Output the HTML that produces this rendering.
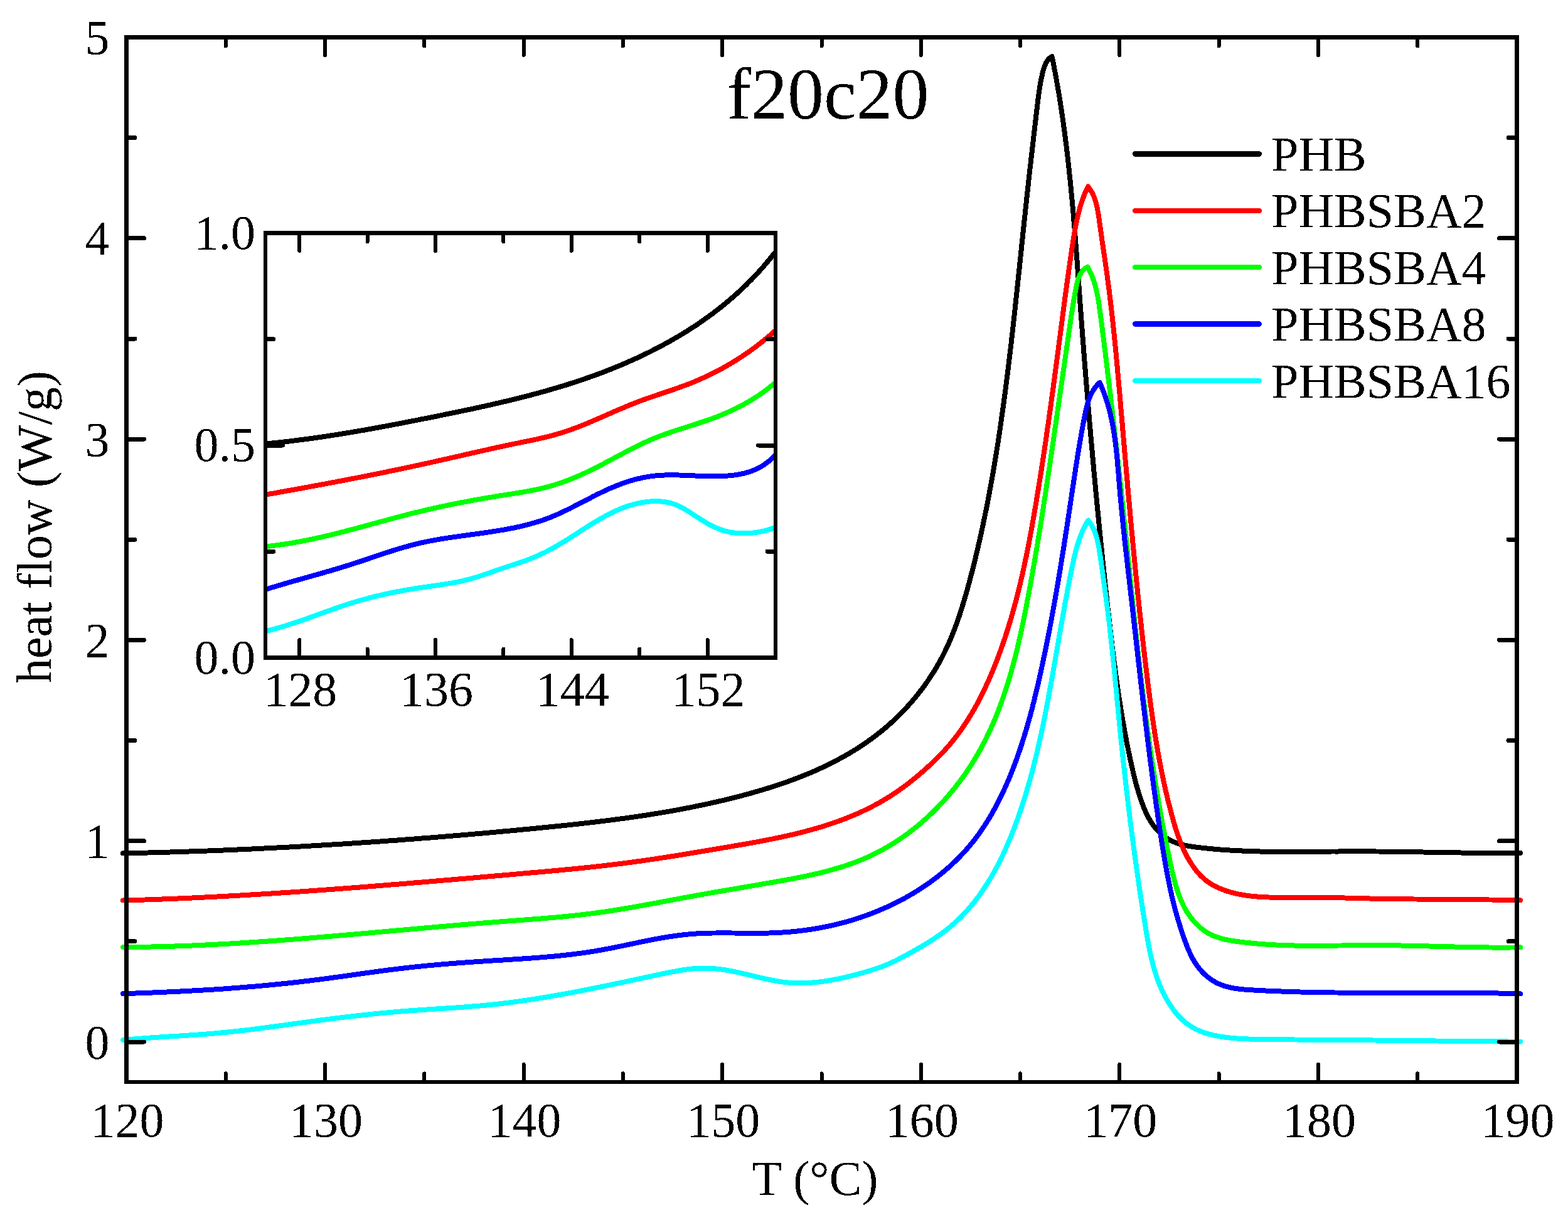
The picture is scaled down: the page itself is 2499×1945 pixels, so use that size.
<!DOCTYPE html><html><head><meta charset="utf-8"><title>f20c20</title>
<style>html,body{margin:0;padding:0;background:#fff;overflow:hidden;}svg{display:block;}text{font-family:"Liberation Serif", "Times New Roman", serif;fill:#000;}text{filter:url(#bin);}path,rect{shape-rendering:crispEdges;}</style></head><body>
<svg xmlns="http://www.w3.org/2000/svg" width="2499" height="1945" viewBox="0 0 2499 1945">
<defs><filter id="bin" x="-3000" y="-3000" width="6000" height="6000" filterUnits="userSpaceOnUse" color-interpolation-filters="sRGB"><feComponentTransfer><feFuncA type="discrete" tableValues="0 1"/></feComponentTransfer></filter></defs>
<rect x="0" y="0" width="2499" height="1945" fill="#fff"/>
<g fill="none" stroke-width="8" stroke-linejoin="round" stroke-linecap="round">
<path stroke="#000000" d="M196,1360.4 201,1360.3 206,1360.2 211,1360.1 216,1360 221,1359.9 226,1359.7 231,1359.6 236,1359.5 241,1359.4 246,1359.2 251,1359.1 256,1358.9 261,1358.8 266,1358.7 271,1358.5 276,1358.4 281,1358.2 286,1358 291,1357.9 296,1357.7 301,1357.5 306,1357.4 311,1357.2 316,1357 321,1356.8 326,1356.6 331,1356.5 336,1356.3 341,1356.1 346,1355.9 351,1355.7 356.1,1355.5 361.1,1355.3 366.1,1355.1 371.1,1354.8 376.1,1354.6 381.1,1354.4 386.1,1354.2 391.1,1354 396.1,1353.7 401.1,1353.5 406.1,1353.3 411.1,1353 416.1,1352.8 421.1,1352.5 426.1,1352.3 431.1,1352 436.1,1351.8 441.1,1351.5 446.1,1351.3 451.1,1351 456.1,1350.8 461.1,1350.5 466.1,1350.2 471.1,1349.9 476.1,1349.7 481.1,1349.4 486.1,1349.1 491.1,1348.8 496.1,1348.5 501.1,1348.2 506.1,1347.9 511.1,1347.6 516.1,1347.3 521.1,1347 526.1,1346.7 531.1,1346.4 536.1,1346.1 541.2,1345.8 546.2,1345.5 551.2,1345.2 556.2,1344.8 561.2,1344.5 566.2,1344.2 571.2,1343.9 576.2,1343.5 581.2,1343.2 586.1,1342.8 591.1,1342.5 596.1,1342.2 601.1,1341.8 606.1,1341.5 611.1,1341.1 616.1,1340.7 621.1,1340.4 626.1,1340 631.1,1339.7 636.1,1339.3 641.1,1338.9 646.1,1338.5 651.1,1338.2 656.1,1337.8 661.1,1337.4 666.1,1337 671.1,1336.6 676.1,1336.2 681.1,1335.8 686.1,1335.5 691.1,1335.1 696.1,1334.7 701.1,1334.2 706,1333.8 711,1333.4 716,1333 721,1332.6 726,1332.2 731,1331.8 736,1331.3 741,1330.9 746,1330.5 751,1330.1 755.9,1329.6 760.9,1329.2 765.9,1328.8 770.9,1328.3 775.9,1327.9 780.9,1327.4 785.9,1327 790.8,1326.5 795.8,1326.1 800.8,1325.6 805.8,1325.1 810.8,1324.7 815.8,1324.2 820.7,1323.8 825.7,1323.3 830.7,1322.8 835.7,1322.3 840.7,1321.9 845.6,1321.4 850.6,1320.9 855.6,1320.4 860.6,1319.9 865.6,1319.4 870.5,1318.9 875.5,1318.4 880.5,1317.9 885.5,1317.4 890.4,1316.9 895.4,1316.4 900.4,1315.9 905.3,1315.4 910.3,1314.8 915.3,1314.3 920.3,1313.8 925.2,1313.2 930.2,1312.6 935.2,1312.1 940.1,1311.5 945.1,1310.9 950,1310.3 955,1309.7 960,1309.1 964.9,1308.5 969.9,1307.9 974.8,1307.3 979.8,1306.6 984.7,1306 989.7,1305.3 994.6,1304.7 999.6,1304 1004.5,1303.3 1009.5,1302.6 1014.4,1301.9 1019.4,1301.1 1024.3,1300.4 1029.3,1299.7 1034.2,1298.9 1039.1,1298.1 1044.1,1297.3 1049,1296.5 1053.9,1295.7 1058.9,1294.9 1063.8,1294 1068.7,1293.2 1073.6,1292.3 1078.5,1291.4 1083.5,1290.5 1088.4,1289.6 1093.3,1288.6 1098.2,1287.7 1103.1,1286.7 1108,1285.7 1112.9,1284.7 1117.8,1283.7 1122.7,1282.7 1127.6,1281.6 1132.5,1280.5 1137.4,1279.4 1142.3,1278.3 1147.2,1277.2 1152.1,1276 1157,1274.9 1161.9,1273.7 1166.8,1272.5 1171.6,1271.2 1176.5,1270 1181.4,1268.7 1186.3,1267.4 1191.1,1266.1 1196,1264.8 1200.8,1263.4 1205.7,1262 1210.5,1260.6 1215.4,1259.2 1220.2,1257.7 1225,1256.2 1229.8,1254.7 1234.6,1253.1 1239.4,1251.6 1244.2,1250 1249,1248.3 1253.7,1246.7 1258.4,1245 1263.2,1243.2 1267.9,1241.5 1272.6,1239.7 1277.2,1237.9 1281.9,1236 1286.5,1234.1 1291.2,1232.2 1295.8,1230.2 1300.4,1228.2 1304.9,1226.1 1309.5,1224.1 1314,1221.9 1318.5,1219.8 1323,1217.6 1327.4,1215.3 1331.8,1213.1 1336.2,1210.7 1340.6,1208.4 1345,1205.9 1349.3,1203.5 1353.6,1201 1357.8,1198.4 1362.1,1195.9 1366.3,1193.2 1370.4,1190.5 1374.6,1187.8 1378.7,1185 1382.8,1182.2 1386.8,1179.3 1390.8,1176.4 1394.8,1173.4 1398.7,1170.4 1402.6,1167.3 1406.5,1164.2 1410.3,1161 1414.1,1157.7 1417.9,1154.4 1421.6,1151.1 1425.2,1147.7 1428.9,1144.2 1432.4,1140.7 1436,1137.2 1439.5,1133.6 1442.9,1130 1446.3,1126.3 1449.7,1122.5 1453,1118.8 1456.3,1114.9 1459.5,1111.1 1462.6,1107.2 1465.7,1103.2 1468.8,1099.2 1471.8,1095.2 1474.7,1091.2 1477.6,1087.1 1480.4,1082.9 1483.2,1078.7 1485.9,1074.5 1488.6,1070.3 1491.2,1066 1493.7,1061.7 1496.2,1057.3 1498.6,1052.9 1501,1048.5 1503.2,1044.1 1505.5,1039.6 1507.6,1035.1 1509.7,1030.6 1511.8,1026.1 1513.8,1021.5 1515.7,1016.9 1517.6,1012.3 1519.5,1007.6 1521.3,1003 1523,998.3 1524.8,993.6 1526.4,988.9 1528.1,984.1 1529.7,979.4 1531.2,974.6 1532.8,969.8 1534.2,965 1535.7,960.2 1537.1,955.4 1538.6,950.6 1539.9,945.8 1541.3,940.9 1542.6,936.1 1544,931.2 1545.3,926.4 1546.5,921.5 1547.8,916.7 1549.1,911.8 1550.3,907 1551.5,902.1 1552.8,897.2 1554,892.4 1555.1,887.5 1556.3,882.6 1557.5,877.7 1558.6,872.9 1559.7,868 1560.9,863.1 1562,858.2 1563.1,853.3 1564.1,848.5 1565.2,843.6 1566.2,838.7 1567.3,833.8 1568.3,828.9 1569.3,824 1570.3,819.1 1571.3,814.2 1572.3,809.3 1573.3,804.4 1574.2,799.5 1575.2,794.5 1576.1,789.6 1577,784.7 1577.9,779.8 1578.8,774.9 1579.7,770 1580.6,765 1581.5,760.1 1582.4,755.2 1583.2,750.3 1584.1,745.3 1584.9,740.4 1585.7,735.5 1586.5,730.5 1587.3,725.6 1588.1,720.7 1588.9,715.7 1589.7,710.8 1590.5,705.9 1591.2,700.9 1592,696 1592.7,691 1593.5,686.1 1594.2,681.1 1594.9,676.2 1595.6,671.2 1596.3,666.3 1597,661.3 1597.7,656.4 1598.4,651.4 1599.1,646.5 1599.8,641.5 1600.4,636.5 1601.1,631.6 1601.8,626.6 1602.4,621.6 1603.1,616.7 1603.7,611.7 1604.3,606.7 1605,601.8 1605.6,596.8 1606.2,591.8 1606.8,586.9 1607.4,581.9 1608,576.9 1608.6,571.9 1609.2,567 1609.8,562 1610.4,557 1611,552 1611.6,547.1 1612.1,542.1 1612.7,537.1 1613.3,532.1 1613.8,527.2 1614.4,522.2 1614.9,517.2 1615.5,512.2 1616,507.2 1616.6,502.2 1617.1,497.3 1617.7,492.3 1618.2,487.3 1618.8,482.3 1619.3,477.3 1619.8,472.4 1620.4,467.4 1620.9,462.4 1621.4,457.4 1622,452.4 1622.5,447.4 1623,442.5 1623.5,437.5 1624.1,432.5 1624.6,427.5 1625.1,422.5 1625.6,417.5 1626.1,412.6 1626.7,407.6 1627.2,402.6 1627.7,397.6 1628.2,392.6 1628.7,387.7 1629.3,382.7 1629.8,377.7 1630.3,372.7 1630.8,367.7 1631.4,362.8 1631.9,357.8 1632.4,352.8 1632.9,347.8 1633.5,342.9 1634,337.9 1634.5,332.9 1635.1,327.9 1635.6,323 1636.1,318 1636.7,313 1637.2,308.1 1637.8,303.1 1638.3,298.1 1638.9,293.2 1639.4,288.2 1640,283.2 1640.5,278.3 1641.1,273.3 1641.6,268.3 1642.2,263.4 1642.8,258.4 1643.3,253.4 1643.9,248.5 1644.5,243.5 1645,238.5 1645.6,233.6 1646.2,228.6 1646.8,223.6 1647.3,218.6 1647.9,213.7 1648.5,208.7 1649.1,203.7 1649.7,198.7 1650.3,193.7 1650.8,188.7 1651.4,183.7 1652,178.7 1652.6,173.7 1653.2,168.7 1653.8,163.7 1654.4,158.6 1655,153.6 1655.7,148.6 1656.4,143.6 1657.1,138.7 1658,133.7 1658.9,128.8 1659.9,123.9 1661,119.1 1662.1,114.3 1663.5,109.6 1665,104.9 1666.9,100.5 1669.3,96.5 1672.5,92.9 1676.5,90 1677.6,94.9 1678.5,99.8 1679.5,104.7 1680.4,109.6 1681.4,114.5 1682.3,119.4 1683.2,124.3 1684.1,129.3 1684.9,134.2 1685.8,139.1 1686.6,144 1687.5,149 1688.3,153.9 1689.1,158.8 1689.9,163.8 1690.6,168.7 1691.4,173.6 1692.1,178.6 1692.9,183.5 1693.6,188.5 1694.3,193.4 1695,198.4 1695.6,203.3 1696.3,208.3 1697,213.2 1697.6,218.2 1698.2,223.1 1698.9,228.1 1699.5,233 1700.1,238 1700.7,243 1701.3,247.9 1701.8,252.9 1702.4,257.9 1702.9,262.8 1703.5,267.8 1704,272.8 1704.5,277.8 1705.1,282.7 1705.6,287.7 1706.1,292.7 1706.6,297.7 1707,302.6 1707.5,307.6 1708,312.6 1708.5,317.6 1708.9,322.6 1709.4,327.6 1709.8,332.5 1710.3,337.5 1710.7,342.5 1711.1,347.5 1711.5,352.5 1712,357.5 1712.4,362.5 1712.8,367.5 1713.2,372.5 1713.6,377.5 1714,382.4 1714.4,387.4 1714.8,392.4 1715.1,397.4 1715.5,402.4 1715.9,407.4 1716.3,412.4 1716.7,417.4 1717,422.4 1717.4,427.4 1717.8,432.4 1718.1,437.4 1718.5,442.4 1718.9,447.4 1719.2,452.4 1719.6,457.4 1720,462.4 1720.3,467.4 1720.7,472.4 1721,477.4 1721.4,482.4 1721.8,487.4 1722.1,492.3 1722.5,497.3 1722.9,502.3 1723.2,507.3 1723.6,512.3 1724,517.3 1724.4,522.3 1724.7,527.3 1725.1,532.3 1725.5,537.3 1725.9,542.3 1726.3,547.3 1726.7,552.3 1727,557.3 1727.4,562.2 1727.8,567.2 1728.2,572.2 1728.6,577.2 1729,582.2 1729.4,587.2 1729.8,592.2 1730.2,597.2 1730.6,602.2 1731,607.1 1731.4,612.1 1731.8,617.1 1732.2,622.1 1732.7,627.1 1733.1,632.1 1733.5,637.1 1733.9,642.1 1734.3,647 1734.7,652 1735.2,657 1735.6,662 1736,667 1736.4,672 1736.9,676.9 1737.3,681.9 1737.7,686.9 1738.2,691.9 1738.6,696.9 1739.1,701.9 1739.5,706.8 1739.9,711.8 1740.4,716.8 1740.8,721.8 1741.3,726.8 1741.7,731.8 1742.2,736.7 1742.6,741.7 1743.1,746.7 1743.5,751.7 1744,756.7 1744.5,761.6 1744.9,766.6 1745.4,771.6 1745.9,776.6 1746.3,781.6 1746.8,786.5 1747.3,791.5 1747.8,796.5 1748.2,801.5 1748.7,806.5 1749.2,811.4 1749.7,816.4 1750.2,821.4 1750.7,826.4 1751.2,831.4 1751.6,836.3 1752.1,841.3 1752.6,846.3 1753.1,851.3 1753.6,856.2 1754.1,861.2 1754.6,866.2 1755.2,871.2 1755.7,876.2 1756.2,881.1 1756.7,886.1 1757.2,891.1 1757.7,896.1 1758.2,901.1 1758.8,906 1759.3,911 1759.8,916 1760.3,921 1760.9,925.9 1761.4,930.9 1761.9,935.9 1762.5,940.9 1763,945.9 1763.6,950.8 1764.1,955.8 1764.6,960.8 1765.2,965.8 1765.7,970.7 1766.3,975.7 1766.9,980.7 1767.4,985.7 1768,990.6 1768.5,995.6 1769.1,1000.6 1769.7,1005.6 1770.2,1010.6 1770.8,1015.5 1771.4,1020.5 1772,1025.5 1772.6,1030.5 1773.2,1035.4 1773.8,1040.4 1774.4,1045.4 1775,1050.3 1775.7,1055.3 1776.3,1060.3 1777,1065.2 1777.6,1070.2 1778.3,1075.2 1778.9,1080.1 1779.6,1085.1 1780.3,1090 1781,1095 1781.7,1099.9 1782.5,1104.9 1783.2,1109.8 1783.9,1114.8 1784.7,1119.7 1785.5,1124.7 1786.3,1129.6 1787.1,1134.5 1787.9,1139.5 1788.7,1144.4 1789.5,1149.3 1790.4,1154.2 1791.3,1159.2 1792.1,1164.1 1793,1169 1794,1173.9 1794.9,1178.8 1795.8,1183.7 1796.8,1188.6 1797.8,1193.5 1798.8,1198.4 1799.8,1203.3 1800.8,1208.2 1801.9,1213 1803,1217.9 1804.1,1222.8 1805.2,1227.7 1806.3,1232.5 1807.5,1237.4 1808.7,1242.2 1809.9,1247.1 1811.2,1251.9 1812.6,1256.7 1814,1261.6 1815.5,1266.4 1817,1271.2 1818.7,1276 1820.4,1280.8 1822.2,1285.6 1824.1,1290.3 1826.2,1295 1828.4,1299.6 1830.7,1304.1 1833.2,1308.5 1835.9,1312.8 1838.8,1316.8 1841.9,1320.7 1845.2,1324.4 1848.7,1327.8 1852.4,1331.1 1856.4,1334 1860.4,1336.8 1864.7,1339.2 1869.1,1341.5 1873.6,1343.4 1878.3,1345.1 1883,1346.5 1887.9,1347.7 1892.8,1348.6 1897.7,1349.4 1902.7,1350.1 1907.7,1350.8 1912.7,1351.4 1917.7,1351.9 1922.6,1352.4 1927.6,1352.9 1932.6,1353.4 1937.6,1353.9 1942.6,1354.3 1947.6,1354.7 1952.6,1355 1957.6,1355.3 1962.6,1355.7 1967.6,1355.9 1972.6,1356.2 1977.6,1356.4 1982.6,1356.7 1987.6,1356.9 1992.6,1357 1997.6,1357.2 2002.6,1357.4 2007.6,1357.5 2012.6,1357.6 2017.6,1357.7 2022.6,1357.8 2027.6,1357.8 2032.6,1357.9 2037.6,1357.9 2042.6,1358 2047.6,1358 2052.7,1358 2057.7,1358 2062.7,1358 2067.7,1358 2072.7,1357.9 2077.7,1357.9 2082.7,1357.9 2087.7,1357.8 2092.7,1357.8 2097.7,1357.8 2102.7,1357.7 2107.7,1357.7 2112.7,1357.6 2117.7,1357.6 2122.7,1357.5 2127.7,1357.5 2132.7,1357.5 2137.7,1357.4 2142.7,1357.4 2147.7,1357.4 2152.8,1357.4 2157.8,1357.3 2162.8,1357.3 2167.8,1357.3 2172.8,1357.4 2177.8,1357.4 2182.8,1357.4 2187.8,1357.4 2192.8,1357.5 2197.8,1357.5 2202.8,1357.6 2207.8,1357.6 2212.8,1357.7 2217.8,1357.7 2222.8,1357.8 2227.8,1357.9 2232.8,1357.9 2237.8,1358 2242.8,1358.1 2247.8,1358.2 2252.8,1358.3 2257.8,1358.3 2262.9,1358.4 2267.9,1358.5 2272.9,1358.6 2277.9,1358.7 2282.9,1358.8 2287.9,1358.9 2292.9,1358.9 2297.9,1359 2302.9,1359.1 2307.9,1359.2 2312.9,1359.3 2317.9,1359.3 2322.9,1359.4 2327.9,1359.5 2332.9,1359.6 2337.9,1359.6 2342.9,1359.7 2347.9,1359.7 2352.9,1359.8 2357.9,1359.8 2362.9,1359.9 2367.9,1359.9 2373,1359.9 2378,1359.9 2383,1360 2388,1360 2393,1360 2398,1360 2403,1359.9 2408,1359.9 2413,1359.9 2418,1359.8 2423,1359.8"/>
<path stroke="#ff0000" d="M196,1435.5 201,1435.4 206,1435.2 211,1435.1 216,1434.9 221,1434.8 226.1,1434.6 231.1,1434.5 236.1,1434.3 241.1,1434.1 246.1,1433.9 251.1,1433.8 256.1,1433.6 261.1,1433.4 266.1,1433.2 271.1,1433 276.1,1432.8 281.1,1432.6 286.1,1432.4 291.1,1432.2 296.1,1431.9 301.1,1431.7 306.1,1431.5 311.1,1431.3 316.1,1431 321.1,1430.8 326.2,1430.5 331.2,1430.3 336.2,1430 341.2,1429.8 346.2,1429.5 351.2,1429.3 356.2,1429 361.2,1428.7 366.2,1428.4 371.2,1428.2 376.2,1427.9 381.2,1427.6 386.2,1427.3 391.2,1427 396.2,1426.7 401.2,1426.4 406.2,1426.1 411.1,1425.8 416.1,1425.5 421.1,1425.2 426.1,1424.9 431.1,1424.6 436.1,1424.3 441.1,1423.9 446.1,1423.6 451.1,1423.3 456.1,1423 461.1,1422.6 466.1,1422.3 471.1,1422 476.1,1421.6 481.1,1421.3 486.1,1420.9 491.1,1420.6 496.1,1420.2 501.1,1419.9 506.1,1419.5 511.1,1419.2 516.1,1418.8 521.1,1418.4 526.1,1418.1 531.1,1417.7 536,1417.3 541,1416.9 546,1416.6 551,1416.2 556,1415.8 561,1415.4 566,1415 571,1414.7 576,1414.3 581,1413.9 586,1413.5 591,1413.1 596,1412.7 601,1412.3 606,1411.9 610.9,1411.5 615.9,1411.1 620.9,1410.7 625.9,1410.3 630.9,1409.9 635.9,1409.5 640.9,1409.1 645.9,1408.7 650.9,1408.3 655.9,1407.8 660.9,1407.4 665.9,1407 670.9,1406.6 675.9,1406.2 680.8,1405.8 685.8,1405.3 690.8,1404.9 695.8,1404.5 700.8,1404.1 705.8,1403.6 710.8,1403.2 715.8,1402.8 720.8,1402.4 725.8,1401.9 730.8,1401.5 735.8,1401.1 740.8,1400.7 745.8,1400.2 750.8,1399.8 755.7,1399.4 760.7,1398.9 765.7,1398.5 770.7,1398.1 775.7,1397.6 780.7,1397.2 785.7,1396.8 790.7,1396.3 795.7,1395.9 800.7,1395.5 805.7,1395 810.7,1394.6 815.7,1394.2 820.7,1393.7 825.7,1393.3 830.7,1392.8 835.7,1392.4 840.7,1392 845.6,1391.5 850.6,1391.1 855.6,1390.7 860.6,1390.2 865.6,1389.8 870.6,1389.3 875.6,1388.9 880.6,1388.4 885.6,1388 890.6,1387.5 895.6,1387 900.6,1386.5 905.5,1386.1 910.5,1385.6 915.5,1385.1 920.5,1384.6 925.5,1384.1 930.5,1383.6 935.4,1383.1 940.4,1382.6 945.4,1382 950.4,1381.5 955.3,1380.9 960.3,1380.4 965.3,1379.8 970.2,1379.2 975.2,1378.6 980.2,1378 985.1,1377.4 990.1,1376.8 995,1376.2 1000,1375.5 1004.9,1374.9 1009.9,1374.2 1014.8,1373.5 1019.8,1372.9 1024.7,1372.2 1029.7,1371.4 1034.6,1370.7 1039.5,1370 1044.5,1369.3 1049.4,1368.5 1054.3,1367.8 1059.3,1367 1064.2,1366.2 1069.1,1365.4 1074.1,1364.7 1079,1363.9 1083.9,1363.1 1088.9,1362.3 1093.8,1361.5 1098.7,1360.7 1103.7,1359.8 1108.6,1359 1113.5,1358.2 1118.5,1357.4 1123.4,1356.5 1128.4,1355.7 1133.3,1354.9 1138.3,1354 1143.2,1353.2 1148.2,1352.4 1153.1,1351.5 1158.1,1350.7 1163.1,1349.8 1168,1349 1173,1348.1 1178,1347.3 1182.9,1346.4 1187.9,1345.6 1192.9,1344.7 1197.8,1343.8 1202.8,1342.9 1207.7,1342 1212.7,1341 1217.6,1340.1 1222.6,1339.1 1227.5,1338.2 1232.5,1337.2 1237.4,1336.2 1242.3,1335.1 1247.2,1334.1 1252.1,1333 1257,1331.9 1261.9,1330.8 1266.8,1329.6 1271.7,1328.4 1276.6,1327.2 1281.4,1326 1286.2,1324.7 1291.1,1323.4 1295.9,1322.1 1300.7,1320.7 1305.5,1319.3 1310.2,1317.9 1315,1316.4 1319.7,1314.9 1324.4,1313.3 1329.1,1311.7 1333.8,1310.1 1338.5,1308.4 1343.1,1306.6 1347.8,1304.9 1352.4,1303 1357,1301.2 1361.6,1299.2 1366.1,1297.3 1370.6,1295.3 1375.1,1293.2 1379.6,1291 1384.1,1288.9 1388.5,1286.6 1392.9,1284.3 1397.3,1282 1401.6,1279.6 1406,1277.1 1410.3,1274.5 1414.6,1271.9 1418.8,1269.3 1423,1266.5 1427.2,1263.8 1431.4,1260.9 1435.5,1258 1439.6,1255 1443.7,1252 1447.7,1248.9 1451.7,1245.8 1455.7,1242.6 1459.6,1239.4 1463.5,1236.2 1467.3,1232.9 1471.2,1229.6 1475,1226.2 1478.7,1222.8 1482.4,1219.4 1486.1,1216 1489.7,1212.5 1493.3,1209 1496.8,1205.4 1500.3,1201.8 1503.7,1198.1 1507.1,1194.5 1510.4,1190.7 1513.7,1187 1516.9,1183.1 1520,1179.3 1523.1,1175.3 1526.1,1171.4 1529,1167.4 1531.9,1163.3 1534.8,1159.2 1537.6,1155.1 1540.3,1150.9 1543,1146.7 1545.6,1142.5 1548.2,1138.2 1550.7,1133.9 1553.2,1129.6 1555.6,1125.2 1558,1120.8 1560.3,1116.4 1562.6,1112 1564.8,1107.5 1567,1103 1569.2,1098.5 1571.3,1094 1573.4,1089.4 1575.5,1084.9 1577.5,1080.3 1579.5,1075.7 1581.4,1071.1 1583.3,1066.4 1585.2,1061.8 1587,1057.1 1588.9,1052.5 1590.6,1047.8 1592.4,1043.1 1594.1,1038.4 1595.8,1033.7 1597.5,1029 1599.1,1024.3 1600.7,1019.6 1602.3,1014.8 1603.8,1010.1 1605.4,1005.3 1606.9,1000.5 1608.3,995.8 1609.8,991 1611.2,986.2 1612.6,981.4 1614,976.6 1615.3,971.8 1616.6,966.9 1618,962.1 1619.2,957.3 1620.5,952.4 1621.7,947.6 1623,942.7 1624.2,937.8 1625.3,933 1626.5,928.1 1627.6,923.2 1628.8,918.3 1629.9,913.4 1631,908.5 1632,903.6 1633.1,898.7 1634.1,893.8 1635.1,888.9 1636.2,884 1637.2,879.1 1638.1,874.2 1639.1,869.2 1640.1,864.3 1641,859.4 1641.9,854.4 1642.8,849.5 1643.8,844.6 1644.6,839.6 1645.5,834.7 1646.4,829.7 1647.3,824.8 1648.1,819.8 1649,814.9 1649.8,809.9 1650.7,805 1651.5,800.1 1652.3,795.1 1653.1,790.2 1653.9,785.2 1654.7,780.3 1655.5,775.3 1656.3,770.4 1657.1,765.4 1657.9,760.5 1658.7,755.5 1659.5,750.6 1660.2,745.6 1661,740.7 1661.7,735.7 1662.5,730.8 1663.2,725.8 1664,720.9 1664.7,716 1665.4,711 1666.2,706.1 1666.9,701.1 1667.6,696.2 1668.3,691.2 1669,686.3 1669.7,681.3 1670.5,676.4 1671.2,671.4 1671.8,666.5 1672.5,661.5 1673.2,656.6 1673.9,651.6 1674.6,646.7 1675.3,641.7 1676,636.8 1676.6,631.8 1677.3,626.8 1678,621.9 1678.7,616.9 1679.3,612 1680,607 1680.7,602.1 1681.3,597.1 1682,592.2 1682.6,587.2 1683.3,582.2 1684,577.3 1684.6,572.3 1685.3,567.4 1685.9,562.4 1686.6,557.4 1687.2,552.5 1687.9,547.5 1688.5,542.5 1689.2,537.6 1689.8,532.6 1690.5,527.6 1691.1,522.7 1691.8,517.7 1692.4,512.7 1693,507.8 1693.7,502.8 1694.3,497.8 1695,492.8 1695.7,487.9 1696.3,482.9 1697,477.9 1697.6,472.9 1698.3,468 1699,463 1699.6,458 1700.3,453 1701,448.1 1701.7,443.1 1702.4,438.1 1703.1,433.1 1703.8,428.2 1704.5,423.2 1705.2,418.2 1705.9,413.3 1706.6,408.3 1707.4,403.3 1708.1,398.4 1708.9,393.4 1709.6,388.4 1710.4,383.5 1711.2,378.5 1712,373.6 1712.8,368.7 1713.7,363.7 1714.6,358.8 1715.6,353.9 1716.7,349.1 1717.8,344.2 1718.9,339.4 1720.2,334.6 1721.5,329.8 1723,325.1 1724.5,320.4 1726.2,315.7 1727.9,311.1 1729.8,306.5 1731.8,302 1734,297.5 1736.9,301.3 1739.4,305.3 1741.6,309.4 1743.6,313.8 1745.2,318.3 1746.6,322.9 1747.8,327.6 1748.9,332.5 1749.8,337.4 1750.6,342.3 1751.4,347.3 1752.1,352.3 1752.8,357.3 1753.5,362.4 1754.2,367.4 1754.9,372.3 1755.6,377.3 1756.3,382.3 1757,387.3 1757.8,392.3 1758.5,397.2 1759.2,402.2 1759.9,407.2 1760.7,412.1 1761.4,417.1 1762.1,422 1762.8,427 1763.5,431.9 1764.2,436.9 1764.9,441.8 1765.5,446.8 1766.2,451.7 1766.8,456.7 1767.5,461.6 1768.1,466.6 1768.7,471.6 1769.3,476.5 1769.9,481.5 1770.5,486.4 1771.1,491.4 1771.7,496.4 1772.2,501.3 1772.8,506.3 1773.3,511.2 1773.9,516.2 1774.4,521.2 1774.9,526.2 1775.4,531.1 1775.9,536.1 1776.4,541.1 1776.9,546 1777.4,551 1777.9,556 1778.4,561 1778.9,565.9 1779.3,570.9 1779.8,575.9 1780.3,580.9 1780.7,585.8 1781.2,590.8 1781.6,595.8 1782.1,600.8 1782.5,605.8 1783,610.7 1783.4,615.7 1783.8,620.7 1784.3,625.7 1784.7,630.7 1785.1,635.7 1785.6,640.6 1786,645.6 1786.4,650.6 1786.8,655.6 1787.3,660.6 1787.7,665.6 1788.1,670.5 1788.6,675.5 1789,680.5 1789.4,685.5 1789.9,690.5 1790.3,695.5 1790.7,700.5 1791.1,705.4 1791.6,710.4 1792,715.4 1792.4,720.4 1792.9,725.4 1793.3,730.4 1793.7,735.4 1794.2,740.4 1794.6,745.3 1795,750.3 1795.5,755.3 1795.9,760.3 1796.4,765.3 1796.8,770.3 1797.2,775.3 1797.7,780.3 1798.1,785.2 1798.6,790.2 1799,795.2 1799.5,800.2 1799.9,805.2 1800.4,810.2 1800.8,815.2 1801.3,820.2 1801.7,825.1 1802.2,830.1 1802.6,835.1 1803.1,840.1 1803.5,845.1 1804,850.1 1804.5,855.1 1804.9,860 1805.4,865 1805.9,870 1806.4,875 1806.8,880 1807.3,885 1807.8,889.9 1808.3,894.9 1808.8,899.9 1809.2,904.9 1809.7,909.9 1810.2,914.8 1810.7,919.8 1811.2,924.8 1811.7,929.8 1812.2,934.8 1812.7,939.7 1813.2,944.7 1813.7,949.7 1814.3,954.7 1814.8,959.7 1815.3,964.6 1815.8,969.6 1816.3,974.6 1816.9,979.6 1817.4,984.5 1817.9,989.5 1818.5,994.5 1819,999.4 1819.6,1004.4 1820.1,1009.4 1820.7,1014.4 1821.2,1019.3 1821.8,1024.3 1822.3,1029.3 1822.9,1034.2 1823.5,1039.2 1824.1,1044.2 1824.6,1049.1 1825.2,1054.1 1825.8,1059 1826.4,1064 1827,1069 1827.6,1073.9 1828.2,1078.9 1828.8,1083.8 1829.4,1088.8 1830,1093.8 1830.7,1098.7 1831.3,1103.7 1831.9,1108.6 1832.6,1113.6 1833.2,1118.5 1833.9,1123.5 1834.6,1128.4 1835.3,1133.4 1836,1138.3 1836.7,1143.2 1837.4,1148.2 1838.1,1153.1 1838.8,1158.1 1839.6,1163 1840.3,1167.9 1841.1,1172.9 1841.9,1177.8 1842.7,1182.7 1843.5,1187.7 1844.4,1192.6 1845.2,1197.5 1846.1,1202.4 1847,1207.4 1847.9,1212.3 1848.8,1217.2 1849.8,1222.1 1850.7,1227 1851.7,1231.9 1852.7,1236.8 1853.7,1241.7 1854.8,1246.6 1855.8,1251.5 1856.9,1256.4 1858,1261.3 1859.2,1266.2 1860.3,1271.1 1861.5,1276 1862.7,1280.9 1864,1285.8 1865.2,1290.6 1866.5,1295.5 1867.8,1300.4 1869.2,1305.2 1870.5,1310.1 1871.9,1315 1873.4,1319.8 1874.9,1324.6 1876.5,1329.4 1878.2,1334.1 1879.9,1338.8 1881.7,1343.5 1883.6,1348.1 1885.6,1352.7 1887.7,1357.2 1889.9,1361.7 1892.2,1366.1 1894.6,1370.5 1897.2,1374.7 1899.9,1378.9 1902.7,1383 1905.7,1387 1908.8,1390.8 1912.1,1394.5 1915.6,1398 1919.2,1401.3 1923,1404.4 1926.9,1407.2 1931.1,1409.9 1935.3,1412.3 1939.8,1414.5 1944.3,1416.5 1948.9,1418.3 1953.5,1420 1958.2,1421.5 1962.9,1422.9 1967.7,1424.1 1972.5,1425.2 1977.4,1426.2 1982.3,1427 1987.2,1427.8 1992.2,1428.4 1997.1,1429 2002.1,1429.4 2007.1,1429.8 2012.2,1430.1 2017.2,1430.3 2022.3,1430.5 2027.4,1430.6 2032.4,1430.7 2037.5,1430.7 2042.6,1430.8 2047.7,1430.7 2052.8,1430.7 2057.9,1430.7 2063,1430.6 2068,1430.6 2073.1,1430.6 2078.2,1430.6 2083.2,1430.6 2088.2,1430.6 2093.2,1430.7 2098.3,1430.7 2103.3,1430.8 2108.3,1430.8 2113.2,1430.9 2118.2,1431 2123.2,1431.1 2128.2,1431.2 2133.1,1431.3 2138.1,1431.4 2143.1,1431.5 2148,1431.6 2153,1431.8 2158,1431.9 2162.9,1432 2167.9,1432.1 2172.8,1432.2 2177.8,1432.3 2182.8,1432.5 2187.7,1432.6 2192.7,1432.7 2197.7,1432.7 2202.7,1432.8 2207.7,1432.9 2212.7,1433 2217.7,1433.1 2222.7,1433.1 2227.7,1433.2 2232.7,1433.3 2237.7,1433.3 2242.7,1433.4 2247.7,1433.4 2252.7,1433.5 2257.7,1433.5 2262.7,1433.6 2267.8,1433.6 2272.8,1433.6 2277.8,1433.7 2282.8,1433.7 2287.8,1433.7 2292.9,1433.8 2297.9,1433.8 2302.9,1433.9 2307.9,1433.9 2313,1433.9 2318,1434 2323,1434 2328,1434 2333,1434.1 2338.1,1434.1 2343.1,1434.2 2348.1,1434.2 2353.1,1434.2 2358.1,1434.3 2363.1,1434.4 2368.1,1434.4 2373.1,1434.5 2378.1,1434.5 2383.1,1434.6 2388.1,1434.7 2393.1,1434.7 2398.1,1434.8 2403.1,1434.9 2408.1,1435 2413.1,1435.1 2418,1435.2 2423,1435.3"/>
<path stroke="#00ff00" d="M196,1510.1 201,1510.1 206,1510 211,1510 216,1509.9 221,1509.9 226,1509.8 231.1,1509.7 236.1,1509.6 241.1,1509.5 246.1,1509.4 251.1,1509.3 256.1,1509.2 261.1,1509 266.1,1508.9 271.1,1508.7 276.1,1508.6 281.1,1508.4 286.1,1508.2 291.1,1508.1 296.1,1507.9 301.1,1507.7 306.1,1507.5 311.1,1507.2 316.1,1507 321.1,1506.8 326.1,1506.6 331.1,1506.3 336.1,1506.1 341.1,1505.8 346.1,1505.6 351.1,1505.3 356.1,1505 361.1,1504.7 366.1,1504.5 371.1,1504.2 376.1,1503.9 381,1503.6 386,1503.3 391,1502.9 396,1502.6 401,1502.3 406,1502 411,1501.6 416,1501.3 421,1501 426,1500.6 431,1500.3 436,1499.9 441,1499.5 445.9,1499.2 450.9,1498.8 455.9,1498.4 460.9,1498 465.9,1497.7 470.9,1497.3 475.9,1496.9 480.9,1496.5 485.9,1496.1 490.9,1495.7 495.8,1495.3 500.8,1494.9 505.8,1494.5 510.8,1494.1 515.8,1493.6 520.8,1493.2 525.8,1492.8 530.8,1492.4 535.7,1492 540.7,1491.5 545.7,1491.1 550.7,1490.7 555.7,1490.2 560.7,1489.8 565.7,1489.4 570.7,1488.9 575.6,1488.5 580.6,1488.1 585.6,1487.6 590.6,1487.2 595.6,1486.7 600.6,1486.3 605.6,1485.8 610.5,1485.4 615.5,1484.9 620.5,1484.5 625.5,1484.1 630.5,1483.6 635.5,1483.2 640.5,1482.7 645.4,1482.3 650.4,1481.8 655.4,1481.4 660.4,1480.9 665.4,1480.5 670.4,1480.1 675.4,1479.6 680.3,1479.2 685.3,1478.7 690.3,1478.3 695.3,1477.9 700.3,1477.4 705.3,1477 710.3,1476.6 715.2,1476.1 720.2,1475.7 725.2,1475.3 730.2,1474.8 735.2,1474.4 740.2,1474 745.1,1473.6 750.1,1473.2 755.1,1472.8 760.1,1472.4 765.1,1472 770.1,1471.5 775.1,1471.1 780.1,1470.8 785,1470.4 790,1470 795,1469.6 800,1469.2 805,1468.8 810,1468.4 815,1468.1 819.9,1467.7 824.9,1467.3 829.9,1467 834.9,1466.6 839.9,1466.2 844.9,1465.8 849.9,1465.4 854.9,1465.1 859.8,1464.7 864.8,1464.3 869.8,1463.9 874.8,1463.4 879.8,1463 884.8,1462.6 889.7,1462.1 894.7,1461.7 899.7,1461.2 904.7,1460.7 909.7,1460.2 914.6,1459.7 919.6,1459.1 924.6,1458.6 929.5,1458 934.5,1457.4 939.5,1456.8 944.5,1456.2 949.4,1455.5 954.4,1454.9 959.4,1454.2 964.3,1453.5 969.3,1452.7 974.2,1452 979.2,1451.2 984.2,1450.4 989.1,1449.6 994.1,1448.8 999,1447.9 1004,1447.1 1008.9,1446.2 1013.9,1445.4 1018.8,1444.5 1023.7,1443.6 1028.7,1442.7 1033.6,1441.8 1038.5,1440.9 1043.5,1440 1048.4,1439.1 1053.3,1438.1 1058.3,1437.2 1063.2,1436.3 1068.1,1435.4 1073,1434.4 1077.9,1433.5 1082.8,1432.6 1087.8,1431.7 1092.7,1430.8 1097.6,1429.9 1102.5,1429 1107.4,1428.1 1112.3,1427.2 1117.2,1426.3 1122,1425.5 1126.9,1424.6 1131.8,1423.7 1136.7,1422.9 1141.6,1422 1146.5,1421.2 1151.4,1420.3 1156.3,1419.5 1161.2,1418.7 1166.1,1417.8 1171,1417 1175.9,1416.2 1180.8,1415.3 1185.7,1414.5 1190.6,1413.6 1195.5,1412.8 1200.4,1412 1205.4,1411.1 1210.3,1410.3 1215.2,1409.4 1220.2,1408.6 1225.1,1407.7 1230.1,1406.9 1235,1406 1240,1405.1 1245,1404.2 1249.9,1403.4 1254.9,1402.4 1259.9,1401.5 1264.9,1400.6 1269.8,1399.6 1274.8,1398.6 1279.8,1397.6 1284.7,1396.6 1289.7,1395.5 1294.6,1394.5 1299.6,1393.3 1304.5,1392.2 1309.4,1391 1314.3,1389.8 1319.2,1388.5 1324,1387.2 1328.9,1385.8 1333.7,1384.4 1338.5,1383 1343.3,1381.5 1348.1,1379.9 1352.8,1378.3 1357.5,1376.7 1362.2,1374.9 1366.9,1373.2 1371.5,1371.3 1376.1,1369.4 1380.7,1367.4 1385.2,1365.4 1389.7,1363.3 1394.2,1361.1 1398.6,1358.8 1403,1356.5 1407.4,1354.2 1411.7,1351.7 1416,1349.2 1420.3,1346.7 1424.5,1344.1 1428.7,1341.4 1432.8,1338.6 1436.9,1335.8 1441,1333 1445.1,1330.1 1449.1,1327.1 1453,1324.1 1456.9,1321 1460.8,1317.9 1464.7,1314.7 1468.5,1311.5 1472.2,1308.2 1476,1304.9 1479.6,1301.5 1483.3,1298.1 1486.9,1294.6 1490.4,1291.1 1493.9,1287.5 1497.4,1283.9 1500.8,1280.3 1504.2,1276.6 1507.6,1272.9 1510.8,1269.1 1514.1,1265.3 1517.3,1261.4 1520.5,1257.6 1523.6,1253.6 1526.6,1249.7 1529.7,1245.7 1532.6,1241.6 1535.6,1237.6 1538.4,1233.5 1541.3,1229.4 1544.1,1225.2 1546.8,1221 1549.5,1216.8 1552.1,1212.6 1554.7,1208.3 1557.2,1204 1559.7,1199.7 1562.2,1195.3 1564.6,1190.9 1566.9,1186.5 1569.2,1182.1 1571.4,1177.7 1573.6,1173.2 1575.8,1168.7 1577.9,1164.2 1579.9,1159.7 1582,1155.1 1583.9,1150.6 1585.9,1146 1587.8,1141.4 1589.6,1136.8 1591.4,1132.1 1593.2,1127.5 1594.9,1122.8 1596.6,1118.1 1598.3,1113.4 1599.9,1108.7 1601.5,1103.9 1603.1,1099.2 1604.6,1094.4 1606.1,1089.6 1607.6,1084.8 1609,1080 1610.4,1075.2 1611.8,1070.4 1613.1,1065.6 1614.4,1060.7 1615.7,1055.9 1617,1051 1618.3,1046.1 1619.5,1041.2 1620.7,1036.4 1621.9,1031.5 1623,1026.6 1624.1,1021.6 1625.3,1016.7 1626.4,1011.8 1627.4,1006.9 1628.5,1002 1629.5,997 1630.6,992.1 1631.6,987.2 1632.6,982.2 1633.6,977.3 1634.6,972.3 1635.5,967.4 1636.5,962.5 1637.4,957.5 1638.4,952.6 1639.3,947.6 1640.2,942.7 1641.1,937.8 1642,932.8 1642.9,927.9 1643.8,923 1644.7,918 1645.6,913.1 1646.4,908.2 1647.3,903.2 1648.2,898.3 1649,893.4 1649.9,888.5 1650.7,883.5 1651.5,878.6 1652.4,873.7 1653.2,868.8 1654,863.9 1654.8,858.9 1655.6,854 1656.4,849.1 1657.2,844.2 1658,839.3 1658.8,834.3 1659.6,829.4 1660.4,824.5 1661.1,819.6 1661.9,814.7 1662.7,809.7 1663.4,804.8 1664.2,799.9 1664.9,795 1665.7,790.1 1666.5,785.1 1667.2,780.2 1667.9,775.3 1668.7,770.4 1669.4,765.4 1670.2,760.5 1670.9,755.6 1671.6,750.7 1672.4,745.7 1673.1,740.8 1673.8,735.9 1674.5,730.9 1675.3,726 1676,721.1 1676.7,716.1 1677.4,711.2 1678.2,706.2 1678.9,701.3 1679.6,696.3 1680.3,691.4 1681,686.4 1681.7,681.5 1682.5,676.5 1683.2,671.6 1683.9,666.6 1684.6,661.7 1685.3,656.7 1686,651.7 1686.8,646.8 1687.5,641.8 1688.2,636.8 1688.9,631.8 1689.6,626.9 1690.3,621.9 1691.1,616.9 1691.8,612 1692.5,607 1693.2,602 1693.9,597 1694.6,592.1 1695.4,587.1 1696.1,582.1 1696.8,577.1 1697.5,572.2 1698.2,567.2 1698.9,562.2 1699.7,557.3 1700.4,552.3 1701.1,547.3 1701.8,542.4 1702.5,537.4 1703.2,532.4 1703.9,527.5 1704.7,522.5 1705.4,517.6 1706.1,512.6 1706.8,507.7 1707.5,502.7 1708.3,497.8 1709,492.9 1709.8,487.9 1710.6,483 1711.4,478 1712.3,473.1 1713.2,468.2 1714.1,463.2 1715.1,458.3 1716.1,453.4 1717.3,448.6 1718.7,443.9 1720.5,439.4 1722.7,435.3 1725.5,431.5 1728.9,428.3 1733.2,425.6 1735.7,430 1737.9,434.5 1739.9,439.1 1741.7,443.7 1743.4,448.4 1744.9,453.1 1746.2,457.9 1747.4,462.7 1748.4,467.5 1749.4,472.4 1750.3,477.3 1751.1,482.2 1751.8,487.2 1752.5,492.1 1753.2,497.1 1753.9,502.1 1754.5,507.1 1755.2,512.1 1755.8,517 1756.5,522 1757.1,527 1757.7,532 1758.4,537 1759,542 1759.6,546.9 1760.2,551.9 1760.8,556.9 1761.5,561.9 1762.1,566.9 1762.7,571.9 1763.3,576.9 1763.9,581.8 1764.5,586.8 1765.1,591.8 1765.7,596.8 1766.3,601.8 1766.9,606.7 1767.5,611.7 1768.1,616.7 1768.7,621.7 1769.3,626.6 1769.9,631.6 1770.4,636.6 1771,641.5 1771.6,646.5 1772.2,651.5 1772.8,656.4 1773.3,661.4 1773.9,666.4 1774.5,671.3 1775.1,676.3 1775.6,681.3 1776.2,686.2 1776.8,691.2 1777.3,696.2 1777.9,701.1 1778.5,706.1 1779,711.1 1779.6,716 1780.1,721 1780.7,725.9 1781.2,730.9 1781.8,735.9 1782.3,740.9 1782.9,745.8 1783.4,750.8 1784,755.8 1784.5,760.7 1785,765.7 1785.6,770.7 1786.1,775.7 1786.6,780.6 1787.2,785.6 1787.7,790.6 1788.2,795.6 1788.7,800.5 1789.3,805.5 1789.8,810.5 1790.3,815.5 1790.8,820.5 1791.3,825.5 1791.8,830.5 1792.4,835.4 1792.9,840.4 1793.4,845.4 1793.9,850.4 1794.4,855.4 1794.9,860.4 1795.4,865.4 1795.9,870.4 1796.4,875.4 1796.9,880.4 1797.4,885.4 1798,890.4 1798.5,895.3 1799,900.3 1799.5,905.3 1800,910.3 1800.5,915.3 1801,920.3 1801.5,925.3 1802,930.3 1802.5,935.3 1803,940.3 1803.6,945.3 1804.1,950.3 1804.6,955.3 1805.1,960.3 1805.6,965.3 1806.2,970.3 1806.7,975.3 1807.2,980.2 1807.7,985.2 1808.3,990.2 1808.8,995.2 1809.3,1000.2 1809.9,1005.2 1810.4,1010.2 1811,1015.2 1811.5,1020.2 1812,1025.1 1812.6,1030.1 1813.2,1035.1 1813.7,1040.1 1814.3,1045.1 1814.8,1050.1 1815.4,1055 1816,1060 1816.5,1065 1817.1,1070 1817.7,1074.9 1818.3,1079.9 1818.9,1084.9 1819.5,1089.8 1820.1,1094.8 1820.7,1099.8 1821.3,1104.7 1821.9,1109.7 1822.5,1114.7 1823.1,1119.6 1823.8,1124.6 1824.4,1129.5 1825,1134.5 1825.7,1139.4 1826.3,1144.4 1827,1149.3 1827.7,1154.3 1828.3,1159.2 1829,1164.2 1829.7,1169.1 1830.4,1174 1831,1179 1831.7,1183.9 1832.4,1188.8 1833.1,1193.7 1833.9,1198.7 1834.6,1203.6 1835.3,1208.5 1836.1,1213.4 1836.8,1218.4 1837.5,1223.3 1838.3,1228.2 1839.1,1233.1 1839.9,1238 1840.6,1243 1841.4,1247.9 1842.2,1252.8 1843,1257.7 1843.9,1262.7 1844.7,1267.6 1845.5,1272.5 1846.4,1277.4 1847.2,1282.4 1848.1,1287.3 1849,1292.2 1849.8,1297.2 1850.7,1302.1 1851.6,1307.1 1852.5,1312 1853.5,1317 1854.4,1321.9 1855.3,1326.9 1856.3,1331.8 1857.3,1336.8 1858.3,1341.8 1859.2,1346.8 1860.2,1351.7 1861.3,1356.7 1862.3,1361.7 1863.3,1366.7 1864.4,1371.7 1865.4,1376.7 1866.5,1381.8 1867.6,1386.8 1868.8,1391.8 1870,1396.7 1871.2,1401.7 1872.5,1406.6 1873.9,1411.5 1875.3,1416.3 1876.9,1421.1 1878.5,1425.9 1880.3,1430.5 1882.1,1435.1 1884.1,1439.6 1886.3,1444.1 1888.5,1448.4 1891,1452.6 1893.6,1456.8 1896.3,1460.8 1899.3,1464.7 1902.4,1468.4 1905.7,1472 1909.2,1475.5 1912.8,1478.8 1916.6,1481.8 1920.6,1484.7 1924.7,1487.2 1929,1489.6 1933.4,1491.6 1938,1493.4 1942.6,1495 1947.4,1496.4 1952.2,1497.6 1957.1,1498.6 1962.1,1499.5 1967,1500.3 1972.1,1501.1 1977.1,1501.7 1982.1,1502.3 1987.1,1502.9 1992.2,1503.4 1997.2,1503.9 2002.2,1504.4 2007.2,1504.8 2012.2,1505.2 2017.2,1505.5 2022.3,1505.9 2027.3,1506.2 2032.3,1506.4 2037.3,1506.7 2042.3,1506.9 2047.3,1507 2052.4,1507.2 2057.4,1507.3 2062.4,1507.5 2067.4,1507.5 2072.4,1507.6 2077.4,1507.7 2082.4,1507.7 2087.4,1507.7 2092.4,1507.8 2097.5,1507.8 2102.5,1507.7 2107.5,1507.7 2112.5,1507.7 2117.5,1507.7 2122.5,1507.6 2127.5,1507.6 2132.5,1507.5 2137.5,1507.5 2142.5,1507.4 2147.5,1507.3 2152.5,1507.3 2157.5,1507.2 2162.6,1507.2 2167.6,1507.2 2172.6,1507.1 2177.6,1507.1 2182.6,1507.1 2187.6,1507.1 2192.6,1507.1 2197.6,1507.1 2202.6,1507.1 2207.6,1507.2 2212.6,1507.2 2217.6,1507.3 2222.6,1507.4 2227.6,1507.4 2232.7,1507.5 2237.7,1507.6 2242.7,1507.7 2247.7,1507.8 2252.7,1507.9 2257.7,1508 2262.7,1508.1 2267.7,1508.2 2272.7,1508.4 2277.7,1508.5 2282.7,1508.6 2287.8,1508.7 2292.8,1508.9 2297.8,1509 2302.8,1509.1 2307.8,1509.2 2312.8,1509.4 2317.8,1509.5 2322.8,1509.6 2327.8,1509.7 2332.8,1509.8 2337.8,1509.9 2342.9,1510 2347.9,1510.1 2352.9,1510.2 2357.9,1510.3 2362.9,1510.3 2367.9,1510.4 2372.9,1510.5 2377.9,1510.5 2382.9,1510.5 2387.9,1510.6 2392.9,1510.6 2398,1510.6 2403,1510.6 2408,1510.5 2413,1510.5 2418,1510.5 2423,1510.4"/>
<path stroke="#0000ff" d="M196,1584.2 201,1584 206,1583.9 211,1583.7 216,1583.5 221,1583.4 226,1583.2 231,1583 236,1582.8 241,1582.6 246,1582.4 251,1582.2 256,1582 261,1581.8 266,1581.5 271,1581.3 276,1581.1 281,1580.8 286,1580.6 291,1580.3 296,1580.1 301,1579.8 306,1579.5 311,1579.3 316,1579 321,1578.7 326,1578.4 331,1578.1 336,1577.8 341,1577.5 346,1577.1 351,1576.8 356,1576.5 360.9,1576.1 365.9,1575.7 370.9,1575.4 375.9,1575 380.9,1574.6 385.9,1574.2 390.9,1573.8 395.9,1573.4 400.9,1573 405.8,1572.6 410.8,1572.1 415.8,1571.7 420.8,1571.2 425.8,1570.8 430.7,1570.3 435.7,1569.8 440.7,1569.3 445.7,1568.8 450.7,1568.3 455.6,1567.8 460.6,1567.3 465.6,1566.7 470.6,1566.2 475.5,1565.6 480.5,1565 485.5,1564.4 490.4,1563.9 495.4,1563.2 500.4,1562.6 505.3,1562 510.3,1561.4 515.2,1560.7 520.2,1560.1 525.2,1559.4 530.1,1558.7 535.1,1558 540,1557.4 545,1556.7 550,1556 554.9,1555.3 559.9,1554.6 564.8,1553.9 569.8,1553.2 574.7,1552.5 579.7,1551.8 584.6,1551.1 589.6,1550.4 594.6,1549.8 599.5,1549.1 604.5,1548.4 609.4,1547.7 614.4,1547.1 619.4,1546.4 624.3,1545.8 629.3,1545.2 634.2,1544.6 639.2,1544 644.2,1543.4 649.1,1542.8 654.1,1542.3 659.1,1541.7 664.1,1541.2 669,1540.7 674,1540.2 679,1539.7 684,1539.2 689,1538.8 693.9,1538.3 698.9,1537.9 703.9,1537.4 708.9,1537 713.9,1536.6 718.9,1536.2 723.8,1535.8 728.8,1535.4 733.8,1535.1 738.8,1534.7 743.8,1534.3 748.8,1534 753.8,1533.6 758.8,1533.3 763.8,1533 768.8,1532.6 773.8,1532.3 778.8,1532 783.8,1531.6 788.8,1531.3 793.8,1531 798.8,1530.7 803.8,1530.4 808.8,1530 813.8,1529.7 818.8,1529.4 823.8,1529.1 828.8,1528.8 833.8,1528.4 838.8,1528.1 843.8,1527.7 848.7,1527.4 853.7,1527 858.7,1526.6 863.7,1526.2 868.7,1525.8 873.7,1525.4 878.7,1524.9 883.7,1524.5 888.6,1524 893.6,1523.5 898.6,1523 903.6,1522.4 908.5,1521.8 913.5,1521.3 918.5,1520.6 923.4,1520 928.4,1519.3 933.3,1518.6 938.3,1517.9 943.2,1517.1 948.2,1516.3 953.1,1515.4 958,1514.6 963,1513.7 967.9,1512.7 972.8,1511.8 977.7,1510.8 982.6,1509.8 987.6,1508.8 992.5,1507.8 997.4,1506.8 1002.3,1505.7 1007.2,1504.7 1012.1,1503.7 1017,1502.7 1021.9,1501.7 1026.8,1500.6 1031.7,1499.7 1036.7,1498.7 1041.6,1497.7 1046.5,1496.8 1051.4,1495.9 1056.3,1495.1 1061.3,1494.2 1066.2,1493.4 1071.1,1492.7 1076,1492 1081,1491.3 1085.9,1490.7 1090.9,1490.1 1095.8,1489.6 1100.8,1489.2 1105.8,1488.8 1110.8,1488.4 1115.7,1488.2 1120.7,1487.9 1125.7,1487.8 1130.7,1487.6 1135.7,1487.5 1140.7,1487.5 1145.7,1487.4 1150.7,1487.4 1155.8,1487.4 1160.8,1487.4 1165.8,1487.5 1170.8,1487.5 1175.8,1487.6 1180.8,1487.6 1185.8,1487.7 1190.9,1487.7 1195.9,1487.8 1200.9,1487.8 1205.9,1487.8 1210.9,1487.8 1215.9,1487.7 1220.9,1487.6 1225.9,1487.5 1230.9,1487.3 1235.9,1487.1 1240.8,1486.9 1245.8,1486.6 1250.8,1486.3 1255.7,1485.9 1260.7,1485.5 1265.7,1485 1270.6,1484.5 1275.5,1483.9 1280.5,1483.3 1285.4,1482.7 1290.3,1482 1295.2,1481.2 1300.1,1480.4 1305,1479.6 1309.9,1478.7 1314.8,1477.7 1319.6,1476.7 1324.5,1475.7 1329.4,1474.6 1334.2,1473.4 1339,1472.2 1343.9,1471 1348.7,1469.6 1353.5,1468.3 1358.3,1466.9 1363.1,1465.4 1367.8,1463.8 1372.6,1462.3 1377.3,1460.6 1382.1,1458.9 1386.8,1457.2 1391.5,1455.4 1396.2,1453.5 1400.8,1451.6 1405.4,1449.6 1410.1,1447.6 1414.7,1445.5 1419.2,1443.4 1423.8,1441.2 1428.3,1439 1432.8,1436.7 1437.2,1434.4 1441.7,1432 1446.1,1429.6 1450.4,1427.1 1454.8,1424.5 1459.1,1421.9 1463.3,1419.2 1467.6,1416.5 1471.7,1413.8 1475.9,1411 1480,1408.1 1484.1,1405.2 1488.1,1402.2 1492.1,1399.2 1496.1,1396.1 1499.9,1393 1503.8,1389.8 1507.6,1386.6 1511.4,1383.3 1515.1,1380 1518.7,1376.6 1522.3,1373.1 1525.9,1369.7 1529.4,1366.1 1532.8,1362.5 1536.2,1358.9 1539.5,1355.2 1542.8,1351.5 1546,1347.7 1549.2,1343.8 1552.3,1339.9 1555.3,1336 1558.3,1332 1561.2,1328 1564,1323.9 1566.8,1319.8 1569.6,1315.6 1572.3,1311.4 1574.9,1307.1 1577.5,1302.9 1580,1298.6 1582.5,1294.2 1584.9,1289.8 1587.3,1285.4 1589.7,1281 1591.9,1276.5 1594.2,1272 1596.4,1267.5 1598.5,1263 1600.6,1258.4 1602.7,1253.8 1604.7,1249.2 1606.7,1244.6 1608.7,1240 1610.6,1235.3 1612.5,1230.6 1614.3,1226 1616.1,1221.3 1617.9,1216.6 1619.6,1211.9 1621.3,1207.2 1622.9,1202.5 1624.6,1197.7 1626.2,1193 1627.8,1188.2 1629.3,1183.5 1630.8,1178.7 1632.3,1173.9 1633.8,1169.2 1635.2,1164.4 1636.6,1159.6 1638,1154.8 1639.3,1150 1640.7,1145.2 1642,1140.4 1643.3,1135.5 1644.6,1130.7 1645.8,1125.9 1647,1121 1648.3,1116.2 1649.4,1111.3 1650.6,1106.5 1651.8,1101.6 1652.9,1096.8 1654.1,1091.9 1655.2,1087 1656.3,1082.1 1657.4,1077.3 1658.5,1072.4 1659.5,1067.5 1660.6,1062.6 1661.7,1057.7 1662.7,1052.8 1663.7,1047.9 1664.8,1043.1 1665.8,1038.2 1666.8,1033.3 1667.8,1028.4 1668.7,1023.5 1669.7,1018.5 1670.7,1013.6 1671.6,1008.7 1672.6,1003.8 1673.5,998.9 1674.5,994 1675.4,989.1 1676.3,984.2 1677.2,979.2 1678.1,974.3 1679,969.4 1679.9,964.5 1680.8,959.5 1681.6,954.6 1682.5,949.7 1683.4,944.7 1684.2,939.8 1685.1,934.9 1685.9,929.9 1686.7,925 1687.6,920.1 1688.4,915.1 1689.2,910.2 1690,905.3 1690.8,900.3 1691.6,895.4 1692.4,890.4 1693.2,885.5 1694,880.5 1694.8,875.6 1695.6,870.7 1696.3,865.7 1697.1,860.8 1697.9,855.8 1698.6,850.9 1699.4,845.9 1700.2,841 1700.9,836 1701.7,831.1 1702.4,826.2 1703.2,821.2 1703.9,816.3 1704.7,811.3 1705.4,806.4 1706.1,801.4 1706.9,796.5 1707.6,791.5 1708.4,786.6 1709.1,781.7 1709.8,776.7 1710.6,771.8 1711.3,766.8 1712.1,761.9 1712.8,756.9 1713.6,752 1714.3,747.1 1715.1,742.1 1715.9,737.2 1716.6,732.2 1717.4,727.3 1718.2,722.4 1719,717.4 1719.8,712.5 1720.7,707.5 1721.5,702.6 1722.4,697.6 1723.2,692.7 1724.1,687.8 1725,682.8 1725.9,677.9 1726.8,672.9 1727.8,668 1728.7,663 1729.7,658.1 1730.8,653.2 1732,648.3 1733.3,643.5 1734.7,638.8 1736.4,634.2 1738.3,629.8 1740.5,625.4 1743,621.3 1745.8,617.3 1749,613.5 1752.6,610 1754.7,614.6 1756.6,619.2 1758.5,623.8 1760.2,628.5 1761.9,633.2 1763.4,637.9 1764.9,642.7 1766.3,647.4 1767.6,652.2 1768.9,657 1770,661.9 1771.1,666.7 1772.1,671.6 1773.1,676.5 1774,681.4 1774.8,686.3 1775.6,691.2 1776.3,696.2 1777,701.1 1777.7,706.1 1778.3,711.1 1778.9,716.1 1779.4,721.1 1779.9,726.1 1780.4,731.1 1780.9,736.1 1781.3,741.1 1781.7,746.2 1782.2,751.2 1782.6,756.2 1783,761.2 1783.4,766.3 1783.8,771.3 1784.2,776.3 1784.7,781.3 1785.1,786.4 1785.5,791.4 1786,796.4 1786.5,801.4 1786.9,806.4 1787.4,811.4 1787.9,816.4 1788.4,821.4 1788.9,826.4 1789.4,831.4 1789.9,836.4 1790.4,841.4 1790.9,846.3 1791.5,851.3 1792,856.3 1792.5,861.3 1793.1,866.3 1793.6,871.3 1794.2,876.2 1794.7,881.2 1795.3,886.2 1795.9,891.2 1796.4,896.1 1797,901.1 1797.6,906.1 1798.1,911.1 1798.7,916 1799.3,921 1799.8,926 1800.4,931 1801,935.9 1801.5,940.9 1802.1,945.9 1802.7,950.9 1803.3,955.8 1803.8,960.8 1804.4,965.8 1805,970.8 1805.5,975.7 1806.1,980.7 1806.6,985.7 1807.2,990.7 1807.8,995.7 1808.3,1000.7 1808.9,1005.6 1809.5,1010.6 1810,1015.6 1810.6,1020.6 1811.2,1025.6 1811.7,1030.6 1812.3,1035.6 1812.8,1040.5 1813.4,1045.5 1814,1050.5 1814.5,1055.5 1815.1,1060.5 1815.7,1065.5 1816.2,1070.5 1816.8,1075.5 1817.4,1080.4 1818,1085.4 1818.5,1090.4 1819.1,1095.4 1819.7,1100.4 1820.3,1105.4 1820.8,1110.4 1821.4,1115.4 1822,1120.3 1822.6,1125.3 1823.2,1130.3 1823.8,1135.3 1824.4,1140.3 1825,1145.3 1825.6,1150.3 1826.2,1155.2 1826.8,1160.2 1827.4,1165.2 1828,1170.2 1828.6,1175.2 1829.2,1180.2 1829.8,1185.1 1830.4,1190.1 1831.1,1195.1 1831.7,1200.1 1832.3,1205.1 1832.9,1210 1833.6,1215 1834.2,1220 1834.9,1225 1835.5,1229.9 1836.2,1234.9 1836.8,1239.9 1837.5,1244.9 1838.2,1249.8 1838.8,1254.8 1839.5,1259.8 1840.2,1264.7 1840.9,1269.7 1841.6,1274.7 1842.2,1279.6 1842.9,1284.6 1843.7,1289.5 1844.4,1294.5 1845.1,1299.4 1845.8,1304.4 1846.5,1309.4 1847.3,1314.3 1848,1319.3 1848.7,1324.2 1849.5,1329.2 1850.2,1334.1 1851,1339 1851.8,1344 1852.5,1348.9 1853.3,1353.9 1854.1,1358.8 1855,1363.7 1855.8,1368.7 1856.6,1373.6 1857.5,1378.5 1858.4,1383.4 1859.3,1388.4 1860.2,1393.3 1861.2,1398.2 1862.2,1403.1 1863.2,1408 1864.2,1412.9 1865.2,1417.8 1866.3,1422.7 1867.4,1427.6 1868.6,1432.5 1869.8,1437.4 1871,1442.3 1872.2,1447.2 1873.5,1452.1 1874.9,1456.9 1876.2,1461.8 1877.6,1466.7 1879.1,1471.5 1880.6,1476.4 1882.1,1481.2 1883.7,1486.1 1885.4,1490.9 1887,1495.8 1888.8,1500.6 1890.6,1505.4 1892.4,1510.2 1894.4,1514.9 1896.5,1519.6 1898.7,1524.2 1901,1528.6 1903.5,1533 1906.2,1537.2 1909.1,1541.2 1912.1,1545.1 1915.4,1548.8 1918.8,1552.3 1922.4,1555.6 1926.1,1558.7 1930,1561.6 1934.1,1564.2 1938.3,1566.5 1942.6,1568.6 1947.1,1570.4 1951.6,1572 1956.3,1573.3 1961.1,1574.4 1965.9,1575.4 1970.8,1576.2 1975.8,1576.8 1980.8,1577.3 1985.9,1577.8 1990.9,1578.1 1996,1578.4 2001.1,1578.7 2006.2,1579 2011.3,1579.2 2016.4,1579.5 2021.5,1579.7 2026.6,1579.9 2031.6,1580.1 2036.7,1580.4 2041.8,1580.5 2046.8,1580.7 2051.9,1580.9 2056.9,1581.1 2062,1581.2 2067,1581.4 2072.1,1581.5 2077.1,1581.6 2082.2,1581.7 2087.2,1581.8 2092.2,1581.9 2097.3,1582 2102.3,1582.1 2107.3,1582.2 2112.3,1582.3 2117.4,1582.4 2122.4,1582.4 2127.4,1582.5 2132.4,1582.5 2137.4,1582.6 2142.4,1582.6 2147.5,1582.6 2152.5,1582.7 2157.5,1582.7 2162.5,1582.7 2167.5,1582.7 2172.5,1582.7 2177.5,1582.7 2182.5,1582.8 2187.5,1582.8 2192.5,1582.8 2197.5,1582.8 2202.5,1582.8 2207.5,1582.8 2212.5,1582.7 2217.5,1582.7 2222.5,1582.7 2227.5,1582.7 2232.5,1582.7 2237.5,1582.7 2242.4,1582.7 2247.4,1582.7 2252.4,1582.7 2257.4,1582.7 2262.4,1582.6 2267.4,1582.6 2272.4,1582.6 2277.4,1582.6 2282.4,1582.6 2287.4,1582.6 2292.4,1582.6 2297.4,1582.6 2302.4,1582.6 2307.4,1582.7 2312.4,1582.7 2317.4,1582.7 2322.4,1582.7 2327.4,1582.7 2332.5,1582.8 2337.5,1582.8 2342.5,1582.8 2347.5,1582.9 2352.5,1582.9 2357.5,1583 2362.5,1583.1 2367.6,1583.1 2372.6,1583.2 2377.6,1583.3 2382.7,1583.4 2387.7,1583.5 2392.7,1583.6 2397.8,1583.7 2402.8,1583.8 2407.9,1584 2412.9,1584.1 2418,1584.3 2423,1584.4"/>
<path stroke="#00ffff" d="M196,1658.1 201,1657.6 206,1657.2 211,1656.7 215.9,1656.3 220.9,1655.9 225.9,1655.5 230.9,1655.1 235.9,1654.8 240.9,1654.4 245.9,1654.1 250.9,1653.7 255.9,1653.4 260.9,1653.1 265.9,1652.8 270.9,1652.4 275.8,1652.1 280.8,1651.8 285.8,1651.5 290.8,1651.2 295.8,1650.8 300.8,1650.5 305.8,1650.2 310.8,1649.8 315.8,1649.5 320.8,1649.1 325.8,1648.8 330.8,1648.4 335.8,1648 340.7,1647.6 345.7,1647.1 350.7,1646.7 355.7,1646.2 360.7,1645.7 365.6,1645.2 370.6,1644.7 375.6,1644.2 380.6,1643.6 385.5,1643.1 390.5,1642.5 395.5,1641.9 400.5,1641.3 405.4,1640.7 410.4,1640 415.4,1639.4 420.3,1638.7 425.3,1638.1 430.2,1637.4 435.2,1636.8 440.2,1636.1 445.1,1635.4 450.1,1634.8 455.1,1634.1 460,1633.4 465,1632.7 469.9,1632 474.9,1631.3 479.8,1630.7 484.8,1630 489.8,1629.3 494.7,1628.6 499.7,1628 504.6,1627.3 509.6,1626.6 514.6,1626 519.5,1625.4 524.5,1624.7 529.4,1624.1 534.4,1623.5 539.3,1622.8 544.3,1622.2 549.3,1621.6 554.2,1621 559.2,1620.5 564.2,1619.9 569.1,1619.3 574.1,1618.8 579.1,1618.2 584,1617.7 589,1617.2 594,1616.6 598.9,1616.1 603.9,1615.6 608.9,1615.1 613.9,1614.7 618.8,1614.2 623.8,1613.8 628.8,1613.3 633.8,1612.9 638.8,1612.5 643.8,1612.1 648.8,1611.7 653.7,1611.3 658.7,1610.9 663.7,1610.6 668.7,1610.2 673.7,1609.9 678.7,1609.6 683.7,1609.2 688.7,1608.9 693.7,1608.6 698.7,1608.3 703.7,1608 708.8,1607.6 713.8,1607.3 718.8,1607 723.8,1606.7 728.8,1606.3 733.8,1606 738.8,1605.6 743.8,1605.2 748.7,1604.8 753.7,1604.4 758.7,1604 763.7,1603.6 768.7,1603.2 773.7,1602.7 778.7,1602.2 783.6,1601.7 788.6,1601.1 793.6,1600.6 798.5,1600 803.5,1599.4 808.5,1598.8 813.4,1598.2 818.4,1597.5 823.3,1596.9 828.3,1596.2 833.2,1595.5 838.1,1594.8 843.1,1594 848,1593.3 853,1592.5 857.9,1591.7 862.8,1590.9 867.8,1590.1 872.7,1589.3 877.6,1588.5 882.5,1587.6 887.5,1586.7 892.4,1585.9 897.3,1585 902.2,1584.1 907.1,1583.2 912,1582.3 917,1581.3 921.9,1580.4 926.8,1579.4 931.7,1578.5 936.6,1577.5 941.5,1576.5 946.4,1575.6 951.3,1574.6 956.2,1573.6 961.2,1572.6 966.1,1571.6 971,1570.5 975.9,1569.5 980.8,1568.5 985.7,1567.5 990.6,1566.4 995.5,1565.4 1000.4,1564.4 1005.3,1563.3 1010.2,1562.3 1015.1,1561.2 1020.1,1560.2 1025,1559.1 1029.9,1558.1 1034.8,1557 1039.7,1556 1044.6,1554.9 1049.5,1553.9 1054.4,1552.8 1059.4,1551.8 1064.3,1550.8 1069.2,1549.8 1074.1,1548.9 1079.1,1548 1084,1547.1 1088.9,1546.3 1093.8,1545.6 1098.8,1545 1103.7,1544.5 1108.6,1544.1 1113.6,1543.8 1118.5,1543.6 1123.5,1543.6 1128.4,1543.6 1133.3,1543.9 1138.3,1544.2 1143.2,1544.7 1148.2,1545.3 1153.1,1546 1158.1,1546.8 1163,1547.7 1167.9,1548.6 1172.9,1549.6 1177.8,1550.7 1182.7,1551.8 1187.6,1552.9 1192.5,1554.1 1197.4,1555.3 1202.3,1556.5 1207.1,1557.6 1212,1558.8 1216.9,1559.9 1221.8,1561 1226.7,1562 1231.6,1563 1236.5,1563.9 1241.4,1564.7 1246.3,1565.4 1251.2,1566 1256.2,1566.5 1261.1,1566.9 1266.1,1567.2 1271.1,1567.3 1276,1567.3 1281,1567.3 1286,1567.1 1291,1566.8 1296,1566.4 1301,1566 1306,1565.4 1310.9,1564.8 1315.9,1564.1 1320.9,1563.3 1325.8,1562.5 1330.8,1561.5 1335.7,1560.6 1340.7,1559.5 1345.6,1558.4 1350.5,1557.3 1355.4,1556.1 1360.3,1554.8 1365.1,1553.5 1370,1552.2 1374.8,1550.9 1379.6,1549.5 1384.4,1548.1 1389.1,1546.6 1393.8,1545.1 1398.5,1543.5 1403.2,1541.9 1407.8,1540.2 1412.3,1538.4 1416.8,1536.5 1421.3,1534.5 1425.7,1532.4 1430.1,1530.2 1434.4,1527.9 1438.8,1525.6 1443.2,1523.3 1447.6,1520.9 1452,1518.5 1456.4,1516 1460.8,1513.5 1465.2,1511 1469.6,1508.5 1474,1505.8 1478.4,1503.2 1482.7,1500.5 1487,1497.7 1491.2,1494.9 1495.4,1492 1499.5,1489.1 1503.6,1486.1 1507.6,1483 1511.6,1479.9 1515.4,1476.7 1519.2,1473.4 1523,1470.1 1526.6,1466.7 1530.2,1463.2 1533.7,1459.7 1537.1,1456.1 1540.5,1452.5 1543.8,1448.8 1547,1445 1550.1,1441.2 1553.2,1437.3 1556.3,1433.4 1559.3,1429.5 1562.2,1425.5 1565,1421.4 1567.8,1417.3 1570.5,1413.2 1573.2,1409 1575.8,1404.8 1578.4,1400.5 1580.9,1396.2 1583.4,1391.9 1585.8,1387.5 1588.2,1383.1 1590.5,1378.7 1592.8,1374.2 1595,1369.8 1597.2,1365.2 1599.3,1360.7 1601.4,1356.2 1603.5,1351.6 1605.5,1347 1607.4,1342.4 1609.4,1337.7 1611.3,1333.1 1613.1,1328.4 1615,1323.7 1616.8,1319.1 1618.5,1314.4 1620.3,1309.6 1622,1304.9 1623.6,1300.2 1625.3,1295.5 1626.9,1290.7 1628.5,1286 1630,1281.2 1631.6,1276.5 1633.1,1271.7 1634.6,1266.9 1636,1262.1 1637.4,1257.3 1638.8,1252.5 1640.2,1247.7 1641.6,1242.9 1642.9,1238.1 1644.2,1233.2 1645.5,1228.4 1646.7,1223.6 1648,1218.7 1649.2,1213.9 1650.4,1209 1651.6,1204.2 1652.8,1199.3 1653.9,1194.4 1655,1189.5 1656.1,1184.7 1657.2,1179.8 1658.3,1174.9 1659.4,1170 1660.4,1165.1 1661.5,1160.2 1662.5,1155.3 1663.5,1150.4 1664.5,1145.5 1665.5,1140.6 1666.4,1135.7 1667.4,1130.7 1668.3,1125.8 1669.3,1120.9 1670.2,1116 1671.1,1111.1 1672,1106.2 1672.9,1101.2 1673.8,1096.3 1674.7,1091.4 1675.6,1086.5 1676.5,1081.5 1677.4,1076.6 1678.2,1071.7 1679.1,1066.8 1680,1061.8 1680.8,1056.9 1681.7,1052 1682.5,1047.1 1683.4,1042.2 1684.3,1037.2 1685.1,1032.3 1686,1027.4 1686.8,1022.5 1687.7,1017.6 1688.5,1012.7 1689.4,1007.7 1690.2,1002.8 1691.1,997.9 1692,993 1692.8,988.1 1693.7,983.2 1694.6,978.3 1695.5,973.3 1696.4,968.4 1697.2,963.5 1698.1,958.6 1699,953.7 1700,948.8 1700.9,943.9 1701.8,938.9 1702.7,934 1703.7,929.1 1704.6,924.2 1705.6,919.3 1706.6,914.4 1707.5,909.4 1708.5,904.5 1709.6,899.6 1710.6,894.7 1711.7,889.8 1712.9,885 1714.1,880.1 1715.4,875.3 1716.8,870.5 1718.2,865.8 1719.8,861.1 1721.4,856.4 1723.2,851.8 1725.1,847.2 1727.2,842.7 1729.4,838.3 1731.7,833.9 1734.2,829.6 1736.9,833.1 1739.4,836.9 1741.6,840.9 1743.5,845 1745.2,849.3 1746.8,853.8 1748.1,858.4 1749.3,863.1 1750.3,868 1751.3,872.9 1752.1,877.8 1752.9,882.8 1753.7,887.9 1754.4,892.9 1755.1,898 1755.8,903 1756.5,908 1757.2,913 1757.9,918 1758.6,923 1759.3,928 1760,933 1760.7,938 1761.3,942.9 1762,947.9 1762.7,952.9 1763.3,957.8 1764,962.8 1764.6,967.7 1765.3,972.7 1765.9,977.6 1766.5,982.6 1767.1,987.6 1767.7,992.5 1768.3,997.5 1768.9,1002.4 1769.4,1007.4 1770,1012.4 1770.5,1017.3 1771.1,1022.3 1771.6,1027.3 1772.1,1032.2 1772.7,1037.2 1773.2,1042.2 1773.7,1047.2 1774.2,1052.1 1774.7,1057.1 1775.2,1062.1 1775.7,1067.1 1776.2,1072.1 1776.7,1077 1777.2,1082 1777.6,1087 1778.1,1092 1778.6,1097 1779.1,1101.9 1779.6,1106.9 1780,1111.9 1780.5,1116.9 1781,1121.9 1781.5,1126.9 1781.9,1131.9 1782.4,1136.8 1782.9,1141.8 1783.4,1146.8 1783.9,1151.8 1784.4,1156.8 1784.9,1161.8 1785.4,1166.7 1785.9,1171.7 1786.4,1176.7 1786.9,1181.7 1787.4,1186.7 1788,1191.7 1788.5,1196.6 1789,1201.6 1789.5,1206.6 1790.1,1211.6 1790.6,1216.6 1791.2,1221.5 1791.7,1226.5 1792.2,1231.5 1792.8,1236.5 1793.4,1241.5 1793.9,1246.4 1794.5,1251.4 1795.1,1256.4 1795.6,1261.4 1796.2,1266.3 1796.8,1271.3 1797.4,1276.3 1798,1281.3 1798.6,1286.2 1799.2,1291.2 1799.8,1296.2 1800.4,1301.2 1801,1306.1 1801.6,1311.1 1802.3,1316.1 1802.9,1321 1803.5,1326 1804.2,1331 1804.8,1335.9 1805.5,1340.9 1806.1,1345.9 1806.8,1350.8 1807.5,1355.8 1808.1,1360.7 1808.8,1365.7 1809.5,1370.7 1810.2,1375.6 1810.9,1380.6 1811.6,1385.5 1812.3,1390.5 1813,1395.4 1813.7,1400.4 1814.4,1405.3 1815.1,1410.3 1815.9,1415.2 1816.6,1420.2 1817.3,1425.1 1818.1,1430.1 1818.8,1435 1819.6,1440 1820.4,1444.9 1821.1,1449.8 1821.9,1454.8 1822.7,1459.7 1823.5,1464.6 1824.3,1469.6 1825.1,1474.5 1825.9,1479.4 1826.7,1484.4 1827.5,1489.3 1828.4,1494.2 1829.2,1499.1 1830.1,1504.1 1831,1509 1832,1513.9 1833,1518.7 1834.1,1523.6 1835.2,1528.5 1836.4,1533.3 1837.6,1538.2 1839,1543 1840.4,1547.8 1841.9,1552.6 1843.5,1557.4 1845.1,1562.1 1846.9,1566.8 1848.8,1571.5 1850.8,1576.2 1853,1580.9 1855.2,1585.5 1857.6,1590 1860.1,1594.5 1862.7,1598.9 1865.5,1603.2 1868.4,1607.4 1871.4,1611.5 1874.5,1615.4 1877.8,1619.2 1881.2,1622.8 1884.8,1626.2 1888.4,1629.4 1892.3,1632.4 1896.2,1635.2 1900.3,1637.8 1904.6,1640.1 1908.9,1642.2 1913.4,1644.1 1918,1645.9 1922.6,1647.4 1927.4,1648.8 1932.2,1650 1937.1,1651.1 1942,1652.1 1947,1652.9 1952,1653.6 1957.1,1654.2 1962.2,1654.7 1967.3,1655.2 1972.4,1655.6 1977.4,1655.9 1982.5,1656.2 1987.6,1656.4 1992.6,1656.6 1997.6,1656.8 2002.6,1656.9 2007.7,1657 2012.7,1657.1 2017.7,1657.2 2022.6,1657.2 2027.6,1657.3 2032.6,1657.3 2037.6,1657.3 2042.6,1657.3 2047.6,1657.4 2052.6,1657.4 2057.6,1657.4 2062.6,1657.5 2067.6,1657.5 2072.6,1657.5 2077.6,1657.6 2082.6,1657.6 2087.5,1657.6 2092.5,1657.7 2097.5,1657.7 2102.5,1657.7 2107.5,1657.8 2112.5,1657.8 2117.5,1657.8 2122.5,1657.9 2127.6,1657.9 2132.6,1658 2137.6,1658 2142.6,1658.1 2147.6,1658.1 2152.6,1658.2 2157.6,1658.2 2162.6,1658.2 2167.6,1658.3 2172.6,1658.3 2177.6,1658.4 2182.6,1658.4 2187.6,1658.5 2192.6,1658.5 2197.6,1658.6 2202.7,1658.6 2207.7,1658.7 2212.7,1658.7 2217.7,1658.8 2222.7,1658.8 2227.7,1658.9 2232.7,1658.9 2237.7,1659 2242.7,1659 2247.7,1659.1 2252.8,1659.1 2257.8,1659.2 2262.8,1659.2 2267.8,1659.3 2272.8,1659.3 2277.8,1659.4 2282.8,1659.4 2287.8,1659.5 2292.8,1659.5 2297.9,1659.6 2302.9,1659.6 2307.9,1659.7 2312.9,1659.7 2317.9,1659.8 2322.9,1659.8 2327.9,1659.9 2332.9,1659.9 2337.9,1660 2342.9,1660 2347.9,1660 2353,1660.1 2358,1660.1 2363,1660.2 2368,1660.2 2373,1660.3 2378,1660.3 2383,1660.3 2388,1660.4 2393,1660.4 2398,1660.4 2403,1660.5 2408,1660.5 2413,1660.5 2418,1660.6 2423,1660.6"/>
</g>
<path fill="none" stroke="#000" stroke-width="6" stroke-linecap="round" d="M518.1,1722.9V1696.9M518.1,62V88M834.6,1722.9V1696.9M834.6,62V88M1151.2,1722.9V1696.9M1151.2,62V88M1467.8,1722.9V1696.9M1467.8,62V88M1784.3,1722.9V1696.9M1784.3,62V88M2100.9,1722.9V1696.9M2100.9,62V88M359.8,1722.9V1711.4M359.8,62V73.5M676.3,1722.9V1711.4M676.3,62V73.5M992.9,1722.9V1711.4M992.9,62V73.5M1309.5,1722.9V1711.4M1309.5,62V73.5M1626,1722.9V1711.4M1626,62V73.5M1942.6,1722.9V1711.4M1942.6,62V73.5M2259.2,1722.9V1711.4M2259.2,62V73.5"/>
<path fill="none" stroke="#000" stroke-width="7" stroke-linecap="round" d="M203.9,1661H229.4M2415,1661H2389.5M203.9,1340.7H229.4M2415,1340.7H2389.5M203.9,1020.4H229.4M2415,1020.4H2389.5M203.9,700.1H229.4M2415,700.1H2389.5M203.9,379.8H229.4M2415,379.8H2389.5M203.9,1500.8H214.9M2415,1500.8H2404M203.9,1180.5H214.9M2415,1180.5H2404M203.9,860.2H214.9M2415,860.2H2404M203.9,540H214.9M2415,540H2404M203.9,219.6H214.9M2415,219.6H2404"/>
<g fill="#000"><rect x="198" y="56" width="6.9" height="1671.9"/><rect x="2414" y="56" width="6.9" height="1671.9"/><rect x="198" y="56" width="2222.9" height="7"/><rect x="198" y="1721.9" width="2222.9" height="6"/></g>
<g font-size="78">
<text x="174.5" y="1687.5" text-anchor="end">0</text>
<text x="174.5" y="1367.2" text-anchor="end">1</text>
<text x="174.5" y="1046.9" text-anchor="end">2</text>
<text x="174.5" y="726.6" text-anchor="end">3</text>
<text x="174.5" y="406.3" text-anchor="end">4</text>
<text x="174.5" y="86" text-anchor="end">5</text>
<text x="203" y="1812" text-anchor="middle">120</text>
<text x="519.6" y="1812" text-anchor="middle">130</text>
<text x="836.1" y="1812" text-anchor="middle">140</text>
<text x="1152.7" y="1812" text-anchor="middle">150</text>
<text x="1469.3" y="1812" text-anchor="middle">160</text>
<text x="1785.8" y="1812" text-anchor="middle">170</text>
<text x="2102.4" y="1812" text-anchor="middle">180</text>
<text x="2418.9" y="1812" text-anchor="middle">190</text>
</g>
<text font-size="78" x="1299" y="1905" text-anchor="middle">T (°C)</text>
<text font-size="78" transform="translate(81.5,840) rotate(-90)" text-anchor="middle">heat flow (W/g)</text>
<text font-size="116" x="1319.5" y="188.8" text-anchor="middle">f20c20</text>
<g stroke-width="8.5" stroke-linecap="round">
<path stroke="#000000" d="M1809.2,245.4H2006.8"/>
<path stroke="#ff0000" d="M1809.2,335.8H2006.8"/>
<path stroke="#00ff00" d="M1809.2,426.1H2006.8"/>
<path stroke="#0000ff" d="M1809.2,516.5H2006.8"/>
<path stroke="#00ffff" d="M1809.2,606.9H2006.8"/>
</g>
<g font-size="78">
<text x="2026" y="272">PHB</text>
<text x="2026" y="362.4">PHBSBA2</text>
<text x="2026" y="452.7">PHBSBA4</text>
<text x="2026" y="543.1">PHBSBA8</text>
<text x="2026" y="633.5">PHBSBA16</text>
</g>
<rect x="420" y="368.1" width="819" height="683.9" fill="#fff"/>
<g fill="none" stroke-width="8" stroke-linejoin="round" stroke-linecap="round">
<path stroke="#000000" d="M426,707.2 431,706.7 436,706.2 441,705.7 446,705.2 451,704.6 456,704.1 461,703.5 466,702.9 471,702.3 476,701.6 481,701 485.9,700.3 490.9,699.7 495.9,699 500.9,698.3 505.8,697.6 510.8,696.9 515.8,696.1 520.7,695.4 525.7,694.6 530.6,693.9 535.6,693.1 540.6,692.3 545.5,691.5 550.5,690.7 555.4,689.9 560.4,689.1 565.3,688.2 570.3,687.4 575.2,686.5 580.2,685.7 585.1,684.8 590,683.9 595,683 599.9,682.1 604.9,681.2 609.8,680.3 614.7,679.4 619.7,678.5 624.6,677.5 629.5,676.6 634.5,675.7 639.4,674.7 644.3,673.8 649.3,672.8 654.2,671.8 659.1,670.9 664.1,669.9 669,668.9 673.9,667.9 678.9,667 683.8,666 688.7,665 693.7,664 698.6,663 703.5,662 708.5,661 713.4,660 718.3,659 723.3,658 728.2,656.9 733.1,655.9 738.1,654.9 743,653.8 747.9,652.8 752.8,651.8 757.8,650.7 762.7,649.6 767.6,648.5 772.5,647.5 777.4,646.4 782.3,645.3 787.3,644.1 792.2,643 797.1,641.9 802,640.7 806.9,639.6 811.8,638.4 816.7,637.2 821.5,636 826.4,634.8 831.3,633.6 836.2,632.3 841.1,631.1 845.9,629.8 850.8,628.5 855.6,627.2 860.5,625.9 865.3,624.5 870.2,623.2 875,621.8 879.8,620.4 884.7,619 889.5,617.6 894.3,616.1 899.1,614.7 903.9,613.2 908.7,611.6 913.5,610.1 918.3,608.6 923,607 927.8,605.4 932.6,603.7 937.3,602.1 942,600.4 946.8,598.7 951.5,597 956.2,595.3 960.9,593.5 965.6,591.7 970.3,589.9 975,588 979.7,586.1 984.3,584.2 989,582.3 993.6,580.3 998.2,578.3 1002.8,576.3 1007.4,574.3 1012,572.2 1016.5,570.1 1021.1,568 1025.6,565.8 1030.2,563.6 1034.7,561.4 1039.1,559.2 1043.6,556.9 1048.1,554.6 1052.5,552.3 1056.9,549.9 1061.3,547.5 1065.7,545.1 1070.1,542.6 1074.4,540.1 1078.8,537.6 1083.1,535.1 1087.3,532.5 1091.6,529.9 1095.9,527.2 1100.1,524.5 1104.3,521.8 1108.5,519.1 1112.6,516.3 1116.7,513.5 1120.8,510.6 1124.9,507.7 1129,504.8 1133,501.9 1137,498.9 1141,495.8 1144.9,492.8 1148.9,489.7 1152.8,486.6 1156.6,483.4 1160.5,480.2 1164.3,476.9 1168.1,473.7 1171.8,470.3 1175.6,467 1179.3,463.6 1182.9,460.2 1186.6,456.7 1190.2,453.2 1193.7,449.6 1197.3,446.1 1200.8,442.4 1204.3,438.8 1207.7,435.1 1211.1,431.3 1214.5,427.5 1217.8,423.7 1221.1,419.8 1224.4,415.9 1227.6,412 1230.8,408 1234,404"/>
<path stroke="#ff0000" d="M426,788.2 430.9,787.3 435.9,786.5 440.8,785.6 445.7,784.7 450.7,783.8 455.6,782.9 460.5,782 465.5,781.2 470.4,780.3 475.3,779.4 480.3,778.5 485.2,777.6 490.1,776.7 495,775.7 500,774.8 504.9,773.9 509.8,773 514.8,772.1 519.7,771.2 524.6,770.2 529.6,769.3 534.5,768.4 539.4,767.4 544.4,766.5 549.3,765.5 554.2,764.6 559.1,763.6 564.1,762.7 569,761.7 573.9,760.8 578.8,759.8 583.8,758.8 588.7,757.8 593.6,756.8 598.5,755.9 603.4,754.9 608.4,753.9 613.3,752.9 618.2,751.9 623.1,750.8 628,749.8 632.9,748.8 637.8,747.8 642.7,746.8 647.7,745.7 652.6,744.7 657.5,743.6 662.4,742.6 667.3,741.5 672.2,740.4 677.1,739.4 682,738.3 686.9,737.2 691.8,736.1 696.6,735 701.5,733.9 706.4,732.8 711.3,731.7 716.2,730.6 721.1,729.5 726,728.4 730.9,727.3 735.7,726.1 740.6,725 745.5,723.9 750.4,722.8 755.3,721.7 760.2,720.6 765.1,719.5 770,718.4 774.9,717.3 779.8,716.2 784.7,715.1 789.6,714 794.5,712.9 799.4,711.9 804.3,710.8 809.2,709.8 814.1,708.8 819,707.7 824,706.7 828.9,705.7 833.8,704.7 838.7,703.7 843.7,702.7 848.6,701.7 853.5,700.6 858.4,699.6 863.3,698.4 868.2,697.3 873,696.1 877.9,694.9 882.7,693.6 887.5,692.2 892.3,690.8 897.1,689.3 901.8,687.8 906.6,686.1 911.3,684.5 915.9,682.7 920.6,681 925.3,679.2 929.9,677.3 934.6,675.4 939.2,673.5 943.8,671.6 948.4,669.6 953,667.6 957.6,665.6 962.2,663.6 966.8,661.6 971.4,659.6 976,657.5 980.6,655.5 985.2,653.5 989.8,651.6 994.5,649.6 999.1,647.7 1003.7,645.7 1008.4,643.9 1013,642 1017.7,640.2 1022.4,638.5 1027.1,636.8 1031.9,635.1 1036.6,633.4 1041.3,631.8 1046.1,630.2 1050.8,628.6 1055.6,627 1060.3,625.4 1065.1,623.8 1069.8,622.2 1074.6,620.6 1079.3,618.9 1084,617.2 1088.7,615.5 1093.4,613.8 1098.1,612 1102.7,610.2 1107.4,608.3 1112,606.3 1116.5,604.3 1121.1,602.3 1125.7,600.2 1130.2,598 1134.7,595.8 1139.1,593.6 1143.6,591.3 1148,589 1152.4,586.6 1156.7,584.1 1161.1,581.6 1165.4,579.1 1169.7,576.5 1173.9,573.8 1178.2,571.2 1182.4,568.4 1186.5,565.6 1190.7,562.8 1194.8,559.9 1198.8,557 1202.9,554 1206.9,551 1210.9,547.9 1214.8,544.8 1218.7,541.6 1222.6,538.4 1226.4,535.2 1230.2,531.8 1234,528.5"/>
<path stroke="#00ff00" d="M426,871 431,870.5 436,869.9 441,869.3 445.9,868.6 450.9,867.9 455.9,867.2 460.8,866.4 465.8,865.6 470.7,864.7 475.6,863.8 480.5,862.9 485.5,862 490.4,861 495.3,860 500.2,858.9 505,857.9 509.9,856.8 514.8,855.7 519.7,854.5 524.6,853.4 529.4,852.2 534.3,851 539.1,849.8 544,848.5 548.9,847.3 553.7,846 558.6,844.8 563.4,843.5 568.2,842.2 573.1,840.9 577.9,839.6 582.8,838.3 587.6,837 592.4,835.6 597.3,834.3 602.1,833 606.9,831.7 611.8,830.4 616.6,829.1 621.5,827.8 626.3,826.5 631.1,825.2 636,823.9 640.8,822.6 645.7,821.4 650.5,820.1 655.4,818.9 660.2,817.7 665.1,816.5 669.9,815.3 674.8,814.1 679.7,813 684.6,811.9 689.4,810.8 694.3,809.7 699.2,808.6 704.1,807.5 709,806.5 713.9,805.5 718.8,804.5 723.7,803.5 728.6,802.5 733.5,801.5 738.4,800.6 743.3,799.7 748.2,798.7 753.2,797.8 758.1,796.9 763,796.1 767.9,795.2 772.9,794.3 777.8,793.5 782.8,792.7 787.7,791.8 792.7,791 797.6,790.2 802.6,789.4 807.5,788.7 812.5,787.9 817.5,787.1 822.4,786.3 827.4,785.5 832.4,784.7 837.3,783.8 842.2,782.9 847.2,782 852.1,781 857,780 861.8,778.9 866.7,777.8 871.5,776.6 876.3,775.3 881.1,773.9 885.9,772.4 890.6,770.9 895.3,769.3 900,767.6 904.7,765.8 909.4,764 914,762.1 918.6,760.2 923.2,758.2 927.7,756.2 932.3,754.1 936.8,751.9 941.3,749.7 945.9,747.5 950.3,745.3 954.8,743 959.3,740.7 963.7,738.4 968.2,736 972.6,733.7 977,731.3 981.4,728.9 985.8,726.6 990.2,724.2 994.7,721.9 999.1,719.5 1003.5,717.2 1007.9,714.9 1012.4,712.7 1016.9,710.5 1021.3,708.3 1025.8,706.2 1030.4,704.1 1034.9,702.1 1039.5,700.1 1044.1,698.2 1048.8,696.4 1053.4,694.6 1058.1,692.9 1062.8,691.2 1067.6,689.6 1072.3,688 1077.1,686.4 1081.8,684.8 1086.6,683.3 1091.4,681.8 1096.2,680.3 1101,678.7 1105.7,677.2 1110.5,675.7 1115.3,674.1 1120,672.5 1124.8,670.9 1129.5,669.3 1134.2,667.6 1138.9,665.9 1143.5,664.1 1148.2,662.2 1152.8,660.3 1157.4,658.4 1161.9,656.4 1166.4,654.3 1170.9,652.1 1175.4,649.9 1179.8,647.7 1184.2,645.3 1188.6,642.9 1192.9,640.4 1197.2,637.9 1201.4,635.3 1205.6,632.6 1209.8,629.8 1213.9,626.9 1218,624 1222.1,621 1226.1,617.9 1230.1,614.7 1234,611.5"/>
<path stroke="#0000ff" d="M426,938.9 430.8,937.4 435.6,936 440.3,934.5 445.1,933.1 449.9,931.7 454.7,930.3 459.6,928.9 464.4,927.5 469.2,926.1 474,924.8 478.8,923.4 483.6,922.1 488.5,920.7 493.3,919.3 498.1,918 502.9,916.6 507.8,915.3 512.6,913.9 517.4,912.5 522.2,911.1 527,909.8 531.8,908.3 536.6,906.9 541.4,905.5 546.2,904 551,902.5 555.8,901 560.5,899.5 565.3,898 570.1,896.4 574.8,894.9 579.6,893.3 584.3,891.7 589.1,890.1 593.8,888.5 598.5,886.9 603.3,885.3 608,883.7 612.8,882.1 617.5,880.6 622.3,879.1 627.1,877.5 631.8,876.1 636.6,874.6 641.4,873.2 646.2,871.8 651,870.5 655.8,869.2 660.7,868 665.5,866.8 670.4,865.6 675.2,864.6 680.1,863.5 685,862.5 690,861.6 694.9,860.7 699.8,859.8 704.8,859 709.7,858.2 714.7,857.4 719.6,856.7 724.6,856 729.6,855.3 734.5,854.6 739.5,853.9 744.5,853.2 749.5,852.5 754.4,851.8 759.4,851.2 764.4,850.5 769.4,849.8 774.3,849.1 779.3,848.3 784.2,847.6 789.2,846.8 794.1,846 799.1,845.2 804,844.4 808.9,843.5 813.8,842.5 818.7,841.6 823.5,840.5 828.4,839.5 833.2,838.3 838,837.2 842.8,835.9 847.6,834.6 852.4,833.2 857.1,831.8 861.9,830.3 866.6,828.7 871.2,827 875.9,825.3 880.5,823.4 885.1,821.5 889.7,819.5 894.3,817.5 898.8,815.3 903.3,813.1 907.8,810.9 912.3,808.6 916.8,806.3 921.3,804 925.8,801.7 930.3,799.3 934.8,797 939.3,794.7 943.8,792.3 948.3,790.1 952.8,787.8 957.3,785.6 961.9,783.4 966.4,781.3 971,779.2 975.6,777.3 980.2,775.3 984.8,773.5 989.5,771.7 994.2,770 998.9,768.4 1003.6,766.9 1008.3,765.5 1013.1,764.2 1017.9,763 1022.7,761.9 1027.5,760.9 1032.3,760.1 1037.2,759.3 1042.1,758.7 1047.1,758.2 1052,757.8 1057,757.6 1062,757.4 1067,757.3 1072,757.3 1077.1,757.4 1082.1,757.5 1087.2,757.6 1092.2,757.8 1097.3,758 1102.4,758.2 1107.4,758.5 1112.5,758.7 1117.6,758.9 1122.6,759.1 1127.7,759.2 1132.7,759.3 1137.8,759.3 1142.8,759.3 1147.8,759.2 1152.8,759 1157.8,758.7 1162.7,758.3 1167.6,757.8 1172.5,757.2 1177.4,756.4 1182.2,755.4 1187,754.3 1191.7,753 1196.3,751.5 1200.9,749.8 1205.4,747.9 1209.8,745.7 1214.1,743.3 1218.3,740.6 1222.4,737.6 1226.4,734.4 1230.3,730.9 1234,727"/>
<path stroke="#00ffff" d="M426,1005.6 430.9,1004.4 435.7,1003.2 440.5,1001.9 445.4,1000.5 450.2,999.1 454.9,997.7 459.7,996.2 464.5,994.6 469.2,993.1 474,991.5 478.7,989.9 483.4,988.2 488.2,986.6 492.9,984.9 497.6,983.2 502.3,981.5 507,979.8 511.7,978.1 516.5,976.4 521.2,974.7 525.9,973 530.6,971.3 535.3,969.7 540.1,968 544.8,966.4 549.5,964.9 554.3,963.3 559.1,961.8 563.8,960.3 568.6,958.9 573.4,957.5 578.2,956.1 583.1,954.8 587.9,953.5 592.7,952.3 597.6,951.1 602.4,949.9 607.3,948.7 612.2,947.6 617,946.5 621.9,945.5 626.8,944.5 631.7,943.5 636.7,942.6 641.6,941.7 646.5,940.8 651.4,939.9 656.4,939.1 661.3,938.3 666.3,937.5 671.2,936.8 676.2,936.1 681.1,935.4 686.1,934.7 691.1,934 696,933.3 701,932.6 705.9,931.8 710.9,931 715.8,930.2 720.7,929.4 725.6,928.5 730.5,927.5 735.4,926.5 740.3,925.4 745.1,924.2 749.9,922.9 754.7,921.5 759.5,920.1 764.2,918.6 769,917 773.7,915.4 778.4,913.8 783.2,912.1 787.9,910.5 792.6,908.8 797.3,907.2 802.1,905.6 806.8,904 811.6,902.5 816.3,900.9 821,899.4 825.8,897.9 830.5,896.3 835.2,894.6 839.9,893 844.5,891.2 849.1,889.3 853.7,887.4 858.3,885.4 862.8,883.3 867.3,881.1 871.7,878.9 876.2,876.6 880.6,874.2 884.9,871.7 889.3,869.2 893.6,866.7 897.9,864.1 902.2,861.5 906.4,858.8 910.7,856.1 914.9,853.4 919.1,850.7 923.4,848 927.6,845.2 931.8,842.5 936,839.8 940.3,837.1 944.5,834.5 948.8,831.9 953.1,829.3 957.4,826.8 961.8,824.4 966.1,822 970.5,819.7 975,817.4 979.5,815.3 984,813.3 988.6,811.3 993.2,809.5 997.9,807.8 1002.7,806.2 1007.5,804.8 1012.4,803.5 1017.3,802.3 1022.3,801.3 1027.2,800.5 1032.3,799.9 1037.3,799.4 1042.3,799.2 1047.2,799.2 1052.2,799.4 1057.1,799.9 1061.9,800.6 1066.7,801.6 1071.4,802.8 1076.1,804.3 1080.6,806.2 1085,808.3 1089.4,810.6 1093.7,813.2 1097.9,815.8 1102.1,818.6 1106.3,821.3 1110.6,824.1 1114.8,826.8 1119.1,829.5 1123.4,832.1 1127.7,834.6 1132.1,837 1136.6,839.3 1141.1,841.4 1145.7,843.3 1150.3,845 1155,846.4 1159.9,847.7 1164.8,848.7 1169.7,849.4 1174.7,849.9 1179.7,850.3 1184.8,850.4 1189.9,850.3 1194.9,850 1200,849.5 1205,848.9 1210,848 1215,847 1219.8,845.9 1224.7,844.6 1229.4,843.1 1234,841.5"/>
</g>
<path fill="none" stroke="#000" stroke-width="6" stroke-linecap="round" d="M477.2,1046.1V1020.1M477.2,373.9V399.9M694,1046.1V1020.1M694,373.9V399.9M910.8,1046.1V1020.1M910.8,373.9V399.9M1127.6,1046.1V1020.1M1127.6,373.9V399.9M585.6,1046.1V1034.6M585.6,373.9V385.4M802.4,1046.1V1034.6M802.4,373.9V385.4M1019.2,1046.1V1034.6M1019.2,373.9V385.4"/>
<path fill="none" stroke="#000" stroke-width="7" stroke-linecap="round" d="M424.9,710H450.4M1234,710H1208.5M424.9,879.2H435.9M1234,879.2H1223M424.9,540.8H435.9M1234,540.8H1223"/>
<g fill="#000"><rect x="420" y="368.1" width="5.9" height="683.9"/><rect x="1233" y="368.1" width="6" height="683.9"/><rect x="420" y="368.1" width="819" height="6.8"/><rect x="420" y="1045.1" width="819" height="6.9"/></g>
<g font-size="78">
<text x="407" y="1073.8" text-anchor="end">0.0</text>
<text x="407" y="735.3" text-anchor="end">0.5</text>
<text x="407" y="396.8" text-anchor="end">1.0</text>
<text x="478.7" y="1124.5" text-anchor="middle">128</text>
<text x="695.5" y="1124.5" text-anchor="middle">136</text>
<text x="912.3" y="1124.5" text-anchor="middle">144</text>
<text x="1129.1" y="1124.5" text-anchor="middle">152</text>
</g>
</svg></body></html>
